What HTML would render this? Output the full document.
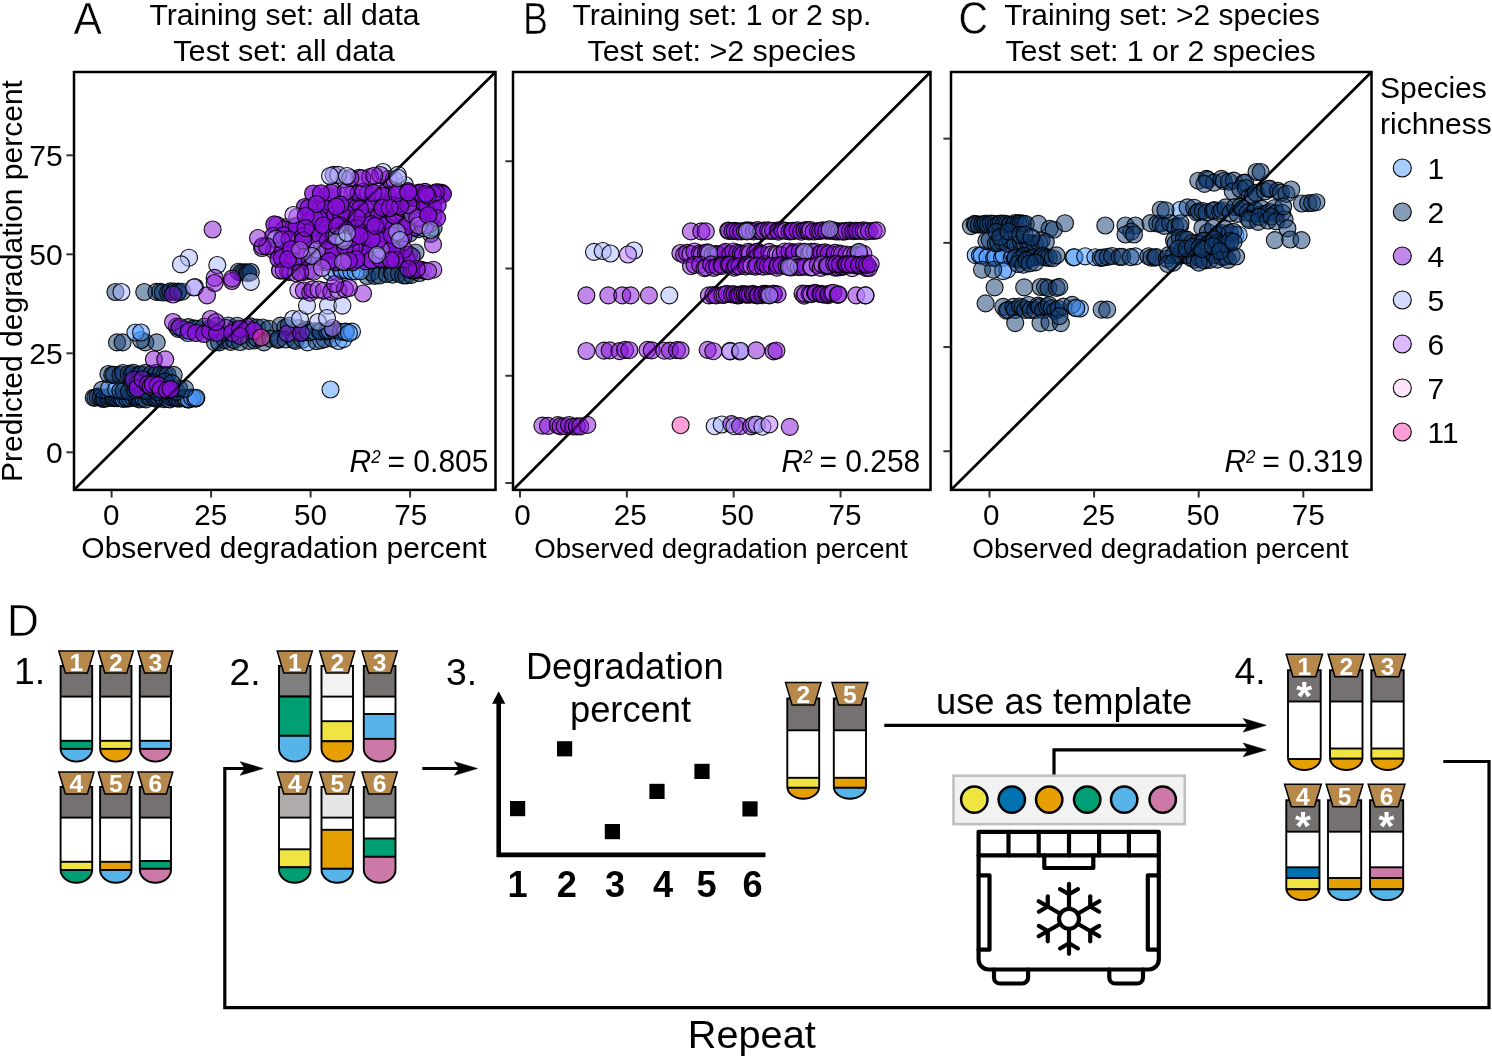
<!DOCTYPE html>
<html lang="en"><head><meta charset="utf-8"><title>Figure</title>
<style>html,body{margin:0;padding:0;background:#fff}svg{display:block}</style></head>
<body>
<svg width="1492" height="1057" viewBox="0 0 1492 1057" font-family="'Liberation Sans', Arial, Helvetica, sans-serif" fill="#000">
<rect width="1492" height="1057" fill="#fff"/>
<g id="panelA">
<line x1="74.0" y1="489.9" x2="495.5" y2="72.0" stroke="#000" stroke-width="2.6"/>
<g stroke="#000" stroke-width="1.15" stroke-opacity="0.9" fill-opacity="0.5">
<circle cx="93.7" cy="397.7" r="8.5" fill="#103a70"/>
<circle cx="95.4" cy="397.6" r="8.5" fill="#103a70"/>
<circle cx="97.7" cy="396.6" r="8.5" fill="#103a70"/>
<circle cx="100.8" cy="397.2" r="8.5" fill="#103a70"/>
<circle cx="103.3" cy="399.0" r="8.5" fill="#103a70"/>
<circle cx="104.6" cy="398.4" r="8.5" fill="#103a70"/>
<circle cx="107.9" cy="398.2" r="8.5" fill="#103a70"/>
<circle cx="109.7" cy="396.6" r="8.5" fill="#103a70"/>
<circle cx="113.0" cy="397.8" r="8.5" fill="#103a70"/>
<circle cx="114.6" cy="398.2" r="8.5" fill="#103a70"/>
<circle cx="117.2" cy="398.2" r="8.5" fill="#103a70"/>
<circle cx="119.3" cy="396.8" r="8.5" fill="#103a70"/>
<circle cx="121.7" cy="398.4" r="8.5" fill="#103a70"/>
<circle cx="123.5" cy="398.8" r="8.5" fill="#4f9bff"/>
<circle cx="125.7" cy="397.6" r="8.5" fill="#4f9bff"/>
<circle cx="127.5" cy="398.6" r="8.5" fill="#103a70"/>
<circle cx="129.7" cy="398.1" r="8.5" fill="#103a70"/>
<circle cx="133.4" cy="397.4" r="8.5" fill="#4f9bff"/>
<circle cx="135.9" cy="398.0" r="8.5" fill="#103a70"/>
<circle cx="136.3" cy="397.0" r="8.5" fill="#103a70"/>
<circle cx="139.3" cy="399.4" r="8.5" fill="#103a70"/>
<circle cx="140.7" cy="397.5" r="8.5" fill="#103a70"/>
<circle cx="143.5" cy="398.2" r="8.5" fill="#4f9bff"/>
<circle cx="146.0" cy="399.3" r="8.5" fill="#103a70"/>
<circle cx="148.3" cy="396.7" r="8.5" fill="#103a70"/>
<circle cx="151.1" cy="397.4" r="8.5" fill="#4f9bff"/>
<circle cx="152.7" cy="396.6" r="8.5" fill="#103a70"/>
<circle cx="155.1" cy="398.3" r="8.5" fill="#103a70"/>
<circle cx="157.4" cy="398.8" r="8.5" fill="#103a70"/>
<circle cx="158.9" cy="397.7" r="8.5" fill="#103a70"/>
<circle cx="162.9" cy="396.7" r="8.5" fill="#4f9bff"/>
<circle cx="164.1" cy="399.2" r="8.5" fill="#103a70"/>
<circle cx="167.2" cy="398.6" r="8.5" fill="#103a70"/>
<circle cx="169.8" cy="399.4" r="8.5" fill="#4f9bff"/>
<circle cx="170.2" cy="397.0" r="8.5" fill="#103a70"/>
<circle cx="173.6" cy="398.0" r="8.5" fill="#103a70"/>
<circle cx="175.7" cy="397.3" r="8.5" fill="#103a70"/>
<circle cx="177.0" cy="398.3" r="8.5" fill="#103a70"/>
<circle cx="179.6" cy="398.6" r="8.5" fill="#103a70"/>
<circle cx="182.3" cy="397.9" r="8.5" fill="#103a70"/>
<circle cx="185.4" cy="397.7" r="8.5" fill="#4f9bff"/>
<circle cx="186.6" cy="398.4" r="8.5" fill="#4f9bff"/>
<circle cx="188.1" cy="399.5" r="8.5" fill="#103a70"/>
<circle cx="191.2" cy="397.5" r="8.5" fill="#103a70"/>
<circle cx="192.6" cy="398.2" r="8.5" fill="#103a70"/>
<circle cx="196.0" cy="398.3" r="8.5" fill="#103a70"/>
<circle cx="186.2" cy="398.7" r="8.5" fill="#4f9bff"/>
<circle cx="188.8" cy="399.4" r="8.5" fill="#4f9bff"/>
<circle cx="192.2" cy="397.7" r="8.5" fill="#4f9bff"/>
<circle cx="195.2" cy="398.5" r="8.5" fill="#4f9bff"/>
<circle cx="196.3" cy="397.7" r="8.5" fill="#4f9bff"/>
<circle cx="101.9" cy="389.9" r="8.5" fill="#103a70"/>
<circle cx="109.3" cy="388.1" r="8.5" fill="#4f9bff"/>
<circle cx="116.2" cy="389.4" r="8.5" fill="#4f9bff"/>
<circle cx="120.3" cy="391.0" r="8.5" fill="#103a70"/>
<circle cx="123.6" cy="390.8" r="8.5" fill="#103a70"/>
<circle cx="128.9" cy="391.6" r="8.5" fill="#103a70"/>
<circle cx="135.0" cy="390.1" r="8.5" fill="#103a70"/>
<circle cx="142.8" cy="390.5" r="8.5" fill="#103a70"/>
<circle cx="147.4" cy="391.2" r="8.5" fill="#103a70"/>
<circle cx="154.0" cy="388.8" r="8.5" fill="#103a70"/>
<circle cx="157.7" cy="392.0" r="8.5" fill="#103a70"/>
<circle cx="164.8" cy="389.0" r="8.5" fill="#103a70"/>
<circle cx="169.8" cy="389.8" r="8.5" fill="#103a70"/>
<circle cx="176.7" cy="391.8" r="8.5" fill="#103a70"/>
<circle cx="179.0" cy="388.4" r="8.5" fill="#103a70"/>
<circle cx="185.1" cy="388.8" r="8.5" fill="#103a70"/>
<circle cx="108.4" cy="374.0" r="8.5" fill="#103a70"/>
<circle cx="112.3" cy="374.8" r="8.5" fill="#103a70"/>
<circle cx="114.1" cy="374.7" r="8.5" fill="#103a70"/>
<circle cx="120.4" cy="374.9" r="8.5" fill="#103a70"/>
<circle cx="123.0" cy="373.0" r="8.5" fill="#103a70"/>
<circle cx="128.8" cy="373.9" r="8.5" fill="#103a70"/>
<circle cx="131.8" cy="374.5" r="8.5" fill="#103a70"/>
<circle cx="133.5" cy="372.9" r="8.5" fill="#103a70"/>
<circle cx="138.9" cy="374.7" r="8.5" fill="#103a70"/>
<circle cx="141.1" cy="374.4" r="8.5" fill="#103a70"/>
<circle cx="145.7" cy="372.9" r="8.5" fill="#103a70"/>
<circle cx="151.2" cy="374.1" r="8.5" fill="#103a70"/>
<circle cx="155.6" cy="375.2" r="8.5" fill="#103a70"/>
<circle cx="156.6" cy="372.9" r="8.5" fill="#103a70"/>
<circle cx="160.5" cy="374.6" r="8.5" fill="#103a70"/>
<circle cx="164.7" cy="374.8" r="8.5" fill="#103a70"/>
<circle cx="167.6" cy="375.0" r="8.5" fill="#103a70"/>
<circle cx="173.7" cy="374.8" r="8.5" fill="#103a70"/>
<circle cx="132.5" cy="382.1" r="8.5" fill="#103a70"/>
<circle cx="137.9" cy="383.5" r="8.5" fill="#103a70"/>
<circle cx="148.6" cy="383.1" r="8.5" fill="#103a70"/>
<circle cx="151.8" cy="381.9" r="8.5" fill="#103a70"/>
<circle cx="165.2" cy="381.3" r="8.5" fill="#103a70"/>
<circle cx="171.9" cy="383.1" r="8.5" fill="#103a70"/>
<circle cx="117.0" cy="342.4" r="8.5" fill="#103a70"/>
<circle cx="122.6" cy="342.4" r="8.5" fill="#103a70"/>
<circle cx="145.3" cy="342.4" r="8.5" fill="#103a70"/>
<circle cx="156.7" cy="342.4" r="8.5" fill="#103a70"/>
<circle cx="141.0" cy="340.0" r="8.5" fill="#103a70"/>
<circle cx="135.4" cy="332.5" r="8.5" fill="#4f9bff"/>
<circle cx="141.0" cy="332.5" r="8.5" fill="#4f9bff"/>
<circle cx="115.4" cy="292.0" r="8.5" fill="#103a70"/>
<circle cx="144.2" cy="292.0" r="8.5" fill="#103a70"/>
<circle cx="156.4" cy="291.8" r="8.5" fill="#103a70"/>
<circle cx="160.1" cy="291.9" r="8.5" fill="#103a70"/>
<circle cx="162.9" cy="292.5" r="8.5" fill="#103a70"/>
<circle cx="168.1" cy="292.7" r="8.5" fill="#103a70"/>
<circle cx="170.4" cy="291.4" r="8.5" fill="#103a70"/>
<circle cx="174.3" cy="291.6" r="8.5" fill="#103a70"/>
<circle cx="177.6" cy="292.6" r="8.5" fill="#103a70"/>
<circle cx="178.3" cy="291.5" r="8.5" fill="#103a70"/>
<circle cx="182.2" cy="291.7" r="8.5" fill="#103a70"/>
<circle cx="238.5" cy="271.7" r="8.5" fill="#103a70"/>
<circle cx="241.4" cy="272.5" r="8.5" fill="#103a70"/>
<circle cx="244.1" cy="272.2" r="8.5" fill="#103a70"/>
<circle cx="246.8" cy="272.4" r="8.5" fill="#103a70"/>
<circle cx="248.2" cy="273.2" r="8.5" fill="#103a70"/>
<circle cx="250.8" cy="272.0" r="8.5" fill="#103a70"/>
<circle cx="176.8" cy="326.6" r="8.5" fill="#103a70"/>
<circle cx="178.3" cy="328.9" r="8.5" fill="#103a70"/>
<circle cx="188.3" cy="327.1" r="8.5" fill="#103a70"/>
<circle cx="193.8" cy="328.3" r="8.5" fill="#103a70"/>
<circle cx="197.4" cy="328.7" r="8.5" fill="#103a70"/>
<circle cx="204.4" cy="326.6" r="8.5" fill="#103a70"/>
<circle cx="209.8" cy="328.7" r="8.5" fill="#103a70"/>
<circle cx="216.7" cy="325.8" r="8.5" fill="#103a70"/>
<circle cx="228.2" cy="325.5" r="8.5" fill="#103a70"/>
<circle cx="235.5" cy="329.2" r="8.5" fill="#103a70"/>
<circle cx="237.2" cy="325.7" r="8.5" fill="#103a70"/>
<circle cx="246.5" cy="329.4" r="8.5" fill="#103a70"/>
<circle cx="250.1" cy="326.3" r="8.5" fill="#103a70"/>
<circle cx="256.9" cy="327.6" r="8.5" fill="#103a70"/>
<circle cx="262.6" cy="327.5" r="8.5" fill="#103a70"/>
<circle cx="268.9" cy="328.7" r="8.5" fill="#103a70"/>
<circle cx="280.6" cy="325.6" r="8.5" fill="#103a70"/>
<circle cx="285.4" cy="327.6" r="8.5" fill="#103a70"/>
<circle cx="288.7" cy="325.9" r="8.5" fill="#103a70"/>
<circle cx="298.8" cy="328.1" r="8.5" fill="#103a70"/>
<circle cx="215.0" cy="342.4" r="8.5" fill="#103a70"/>
<circle cx="219.2" cy="342.4" r="8.5" fill="#103a70"/>
<circle cx="225.0" cy="340.1" r="8.5" fill="#103a70"/>
<circle cx="230.6" cy="341.8" r="8.5" fill="#103a70"/>
<circle cx="234.2" cy="340.2" r="8.5" fill="#103a70"/>
<circle cx="240.0" cy="342.0" r="8.5" fill="#103a70"/>
<circle cx="249.0" cy="340.9" r="8.5" fill="#103a70"/>
<circle cx="254.6" cy="340.3" r="8.5" fill="#103a70"/>
<circle cx="257.2" cy="338.5" r="8.5" fill="#103a70"/>
<circle cx="263.9" cy="342.4" r="8.5" fill="#103a70"/>
<circle cx="270.4" cy="338.6" r="8.5" fill="#103a70"/>
<circle cx="277.8" cy="339.9" r="8.5" fill="#103a70"/>
<circle cx="278.5" cy="338.8" r="8.5" fill="#103a70"/>
<circle cx="285.6" cy="339.5" r="8.5" fill="#103a70"/>
<circle cx="293.9" cy="339.6" r="8.5" fill="#103a70"/>
<circle cx="295.6" cy="340.8" r="8.5" fill="#103a70"/>
<circle cx="302.8" cy="339.7" r="8.5" fill="#103a70"/>
<circle cx="307.5" cy="342.3" r="8.5" fill="#4f9bff"/>
<circle cx="316.5" cy="341.1" r="8.5" fill="#103a70"/>
<circle cx="321.3" cy="340.1" r="8.5" fill="#4f9bff"/>
<circle cx="324.6" cy="339.1" r="8.5" fill="#103a70"/>
<circle cx="332.4" cy="338.7" r="8.5" fill="#103a70"/>
<circle cx="338.5" cy="341.0" r="8.5" fill="#4f9bff"/>
<circle cx="343.5" cy="339.1" r="8.5" fill="#4f9bff"/>
<circle cx="302.2" cy="332.0" r="8.5" fill="#103a70"/>
<circle cx="306.6" cy="329.8" r="8.5" fill="#103a70"/>
<circle cx="308.5" cy="332.4" r="8.5" fill="#103a70"/>
<circle cx="314.1" cy="331.2" r="8.5" fill="#4f9bff"/>
<circle cx="319.3" cy="331.0" r="8.5" fill="#103a70"/>
<circle cx="320.8" cy="331.7" r="8.5" fill="#103a70"/>
<circle cx="327.1" cy="331.5" r="8.5" fill="#103a70"/>
<circle cx="329.4" cy="330.3" r="8.5" fill="#4f9bff"/>
<circle cx="333.6" cy="330.2" r="8.5" fill="#103a70"/>
<circle cx="340.7" cy="331.7" r="8.5" fill="#103a70"/>
<circle cx="345.7" cy="332.0" r="8.5" fill="#4f9bff"/>
<circle cx="346.2" cy="331.8" r="8.5" fill="#103a70"/>
<circle cx="184.0" cy="330.0" r="8.5" fill="#4f9bff"/>
<circle cx="188.0" cy="333.0" r="8.5" fill="#4f9bff"/>
<circle cx="345.0" cy="331.6" r="8.5" fill="#4f9bff"/>
<circle cx="352.0" cy="331.6" r="8.5" fill="#4f9bff"/>
<circle cx="349.0" cy="333.0" r="8.5" fill="#4f9bff"/>
<circle cx="330.5" cy="389.5" r="8.5" fill="#4f9bff"/>
<circle cx="367.1" cy="276.0" r="8.5" fill="#103a70"/>
<circle cx="371.4" cy="272.3" r="8.5" fill="#103a70"/>
<circle cx="374.6" cy="275.8" r="8.5" fill="#103a70"/>
<circle cx="379.4" cy="275.5" r="8.5" fill="#103a70"/>
<circle cx="386.6" cy="274.0" r="8.5" fill="#103a70"/>
<circle cx="391.9" cy="272.1" r="8.5" fill="#103a70"/>
<circle cx="392.5" cy="274.7" r="8.5" fill="#103a70"/>
<circle cx="398.9" cy="273.7" r="8.5" fill="#103a70"/>
<circle cx="403.4" cy="275.4" r="8.5" fill="#103a70"/>
<circle cx="406.3" cy="275.4" r="8.5" fill="#103a70"/>
<circle cx="411.4" cy="274.9" r="8.5" fill="#103a70"/>
<circle cx="419.5" cy="273.0" r="8.5" fill="#103a70"/>
<circle cx="330.3" cy="272.0" r="8.5" fill="#4f9bff"/>
<circle cx="336.4" cy="271.8" r="8.5" fill="#4f9bff"/>
<circle cx="341.0" cy="269.8" r="8.5" fill="#4f9bff"/>
<circle cx="342.2" cy="270.9" r="8.5" fill="#4f9bff"/>
<circle cx="346.6" cy="270.3" r="8.5" fill="#4f9bff"/>
<circle cx="351.3" cy="271.4" r="8.5" fill="#4f9bff"/>
<circle cx="355.7" cy="271.4" r="8.5" fill="#4f9bff"/>
<circle cx="360.5" cy="271.2" r="8.5" fill="#4f9bff"/>
<circle cx="300.5" cy="254.5" r="8.5" fill="#4f9bff"/>
<circle cx="316.1" cy="255.9" r="8.5" fill="#103a70"/>
<circle cx="322.9" cy="257.5" r="8.5" fill="#103a70"/>
<circle cx="335.5" cy="254.8" r="8.5" fill="#103a70"/>
<circle cx="343.4" cy="253.5" r="8.5" fill="#103a70"/>
<circle cx="357.4" cy="253.6" r="8.5" fill="#4f9bff"/>
<circle cx="366.6" cy="254.9" r="8.5" fill="#103a70"/>
<circle cx="376.7" cy="253.0" r="8.5" fill="#103a70"/>
<circle cx="381.6" cy="255.0" r="8.5" fill="#103a70"/>
<circle cx="398.1" cy="253.3" r="8.5" fill="#4f9bff"/>
<circle cx="409.1" cy="254.6" r="8.5" fill="#103a70"/>
<circle cx="415.5" cy="252.5" r="8.5" fill="#103a70"/>
<circle cx="322.9" cy="228.6" r="8.5" fill="#103a70"/>
<circle cx="331.7" cy="233.1" r="8.5" fill="#103a70"/>
<circle cx="343.6" cy="229.1" r="8.5" fill="#103a70"/>
<circle cx="352.1" cy="229.0" r="8.5" fill="#103a70"/>
<circle cx="357.2" cy="230.0" r="8.5" fill="#103a70"/>
<circle cx="367.8" cy="227.0" r="8.5" fill="#103a70"/>
<circle cx="375.7" cy="226.7" r="8.5" fill="#103a70"/>
<circle cx="387.7" cy="229.2" r="8.5" fill="#103a70"/>
<circle cx="392.4" cy="232.8" r="8.5" fill="#103a70"/>
<circle cx="404.6" cy="227.0" r="8.5" fill="#103a70"/>
<circle cx="409.4" cy="233.7" r="8.5" fill="#103a70"/>
<circle cx="418.5" cy="229.1" r="8.5" fill="#103a70"/>
<circle cx="430.8" cy="233.8" r="8.5" fill="#103a70"/>
<circle cx="433.6" cy="227.8" r="8.5" fill="#103a70"/>
<circle cx="341.3" cy="208.5" r="8.5" fill="#103a70"/>
<circle cx="354.3" cy="201.7" r="8.5" fill="#103a70"/>
<circle cx="363.1" cy="207.3" r="8.5" fill="#103a70"/>
<circle cx="366.9" cy="206.2" r="8.5" fill="#103a70"/>
<circle cx="375.9" cy="206.0" r="8.5" fill="#103a70"/>
<circle cx="386.1" cy="206.6" r="8.5" fill="#103a70"/>
<circle cx="390.9" cy="203.4" r="8.5" fill="#103a70"/>
<circle cx="406.2" cy="204.1" r="8.5" fill="#103a70"/>
<circle cx="408.5" cy="201.1" r="8.5" fill="#103a70"/>
<circle cx="417.5" cy="203.2" r="8.5" fill="#103a70"/>
<circle cx="426.0" cy="204.8" r="8.5" fill="#103a70"/>
<circle cx="433.6" cy="201.2" r="8.5" fill="#103a70"/>
<circle cx="133.4" cy="379.7" r="8.5" fill="#8510d8"/>
<circle cx="137.5" cy="388.3" r="8.5" fill="#8510d8" fill-opacity="0.78"/>
<circle cx="142.5" cy="379.3" r="8.5" fill="#8510d8"/>
<circle cx="147.8" cy="384.3" r="8.5" fill="#8510d8" fill-opacity="0.78"/>
<circle cx="150.5" cy="386.3" r="8.5" fill="#8510d8"/>
<circle cx="152.8" cy="384.4" r="8.5" fill="#8510d8" fill-opacity="0.78"/>
<circle cx="157.8" cy="385.1" r="8.5" fill="#8510d8" fill-opacity="0.78"/>
<circle cx="160.5" cy="389.5" r="8.5" fill="#8510d8"/>
<circle cx="167.0" cy="390.1" r="8.5" fill="#8510d8" fill-opacity="0.78"/>
<circle cx="170.6" cy="389.1" r="8.5" fill="#8510d8" fill-opacity="0.78"/>
<circle cx="153.9" cy="359.4" r="8.5" fill="#8510d8"/>
<circle cx="165.2" cy="359.4" r="8.5" fill="#8510d8"/>
<circle cx="121.4" cy="292.0" r="8.5" fill="#a9b8ff"/>
<circle cx="173.0" cy="294.5" r="8.5" fill="#8510d8"/>
<circle cx="195.0" cy="287.0" r="8.5" fill="#b972ff"/>
<circle cx="194.0" cy="287.5" r="8.5" fill="#a9b8ff"/>
<circle cx="207.0" cy="295.3" r="8.5" fill="#8510d8"/>
<circle cx="189.0" cy="257.7" r="8.5" fill="#a9b8ff"/>
<circle cx="181.0" cy="264.4" r="8.5" fill="#a9b8ff"/>
<circle cx="217.3" cy="265.0" r="8.5" fill="#a9b8ff"/>
<circle cx="212.6" cy="229.5" r="8.5" fill="#8510d8"/>
<circle cx="214.6" cy="277.8" r="8.5" fill="#8510d8"/>
<circle cx="232.0" cy="281.0" r="8.5" fill="#8510d8"/>
<circle cx="214.6" cy="283.0" r="8.5" fill="#8510d8"/>
<circle cx="250.8" cy="281.8" r="8.5" fill="#a9b8ff"/>
<circle cx="232.0" cy="278.6" r="8.5" fill="#8510d8"/>
<circle cx="173.0" cy="322.0" r="8.5" fill="#8510d8"/>
<circle cx="180.0" cy="327.0" r="8.5" fill="#8510d8"/>
<circle cx="226.0" cy="328.0" r="8.5" fill="#8510d8"/>
<circle cx="247.0" cy="327.0" r="8.5" fill="#8510d8"/>
<circle cx="189.0" cy="331.0" r="8.5" fill="#8510d8" fill-opacity="0.78"/>
<circle cx="196.0" cy="333.0" r="8.5" fill="#8510d8" fill-opacity="0.78"/>
<circle cx="204.0" cy="334.0" r="8.5" fill="#8510d8" fill-opacity="0.78"/>
<circle cx="210.0" cy="331.0" r="8.5" fill="#8510d8" fill-opacity="0.78"/>
<circle cx="217.0" cy="333.0" r="8.5" fill="#8510d8" fill-opacity="0.78"/>
<circle cx="232.0" cy="333.0" r="8.5" fill="#8510d8" fill-opacity="0.78"/>
<circle cx="240.0" cy="329.0" r="8.5" fill="#8510d8" fill-opacity="0.78"/>
<circle cx="254.0" cy="331.0" r="8.5" fill="#8510d8" fill-opacity="0.78"/>
<circle cx="210.6" cy="319.0" r="8.5" fill="#8510d8"/>
<circle cx="216.0" cy="322.0" r="8.5" fill="#8510d8"/>
<circle cx="287.5" cy="333.5" r="8.5" fill="#8510d8"/>
<circle cx="301.0" cy="333.0" r="8.5" fill="#8510d8"/>
<circle cx="240.0" cy="336.0" r="8.5" fill="#8510d8"/>
<circle cx="261.3" cy="337.5" r="8.5" fill="#ff3cae"/>
<circle cx="332.5" cy="328.0" r="8.5" fill="#b972ff"/>
<circle cx="293.0" cy="319.0" r="8.5" fill="#a9b8ff"/>
<circle cx="300.0" cy="319.0" r="8.5" fill="#a9b8ff"/>
<circle cx="307.0" cy="305.6" r="8.5" fill="#a9b8ff"/>
<circle cx="328.0" cy="305.6" r="8.5" fill="#a9b8ff"/>
<circle cx="342.4" cy="305.6" r="8.5" fill="#a9b8ff"/>
<circle cx="318.0" cy="322.0" r="8.5" fill="#a9b8ff"/>
<circle cx="327.0" cy="318.0" r="8.5" fill="#a9b8ff"/>
<circle cx="298.4" cy="290.2" r="8.5" fill="#b972ff"/>
<circle cx="303.9" cy="290.5" r="8.5" fill="#8510d8"/>
<circle cx="310.2" cy="292.7" r="8.5" fill="#8510d8"/>
<circle cx="312.4" cy="289.4" r="8.5" fill="#8510d8"/>
<circle cx="318.7" cy="289.6" r="8.5" fill="#b972ff"/>
<circle cx="324.0" cy="290.7" r="8.5" fill="#8510d8"/>
<circle cx="331.2" cy="291.8" r="8.5" fill="#8510d8"/>
<circle cx="338.2" cy="290.2" r="8.5" fill="#b972ff"/>
<circle cx="344.9" cy="289.1" r="8.5" fill="#8510d8"/>
<circle cx="363.0" cy="293.5" r="8.5" fill="#8510d8"/>
<circle cx="349.0" cy="288.0" r="8.5" fill="#8510d8"/>
<circle cx="335.0" cy="284.0" r="8.5" fill="#8510d8"/>
<circle cx="317.7" cy="240.8" r="8.5" fill="#b972ff"/>
<circle cx="310.7" cy="239.3" r="8.5" fill="#8510d8" fill-opacity="0.78"/>
<circle cx="412.3" cy="195.3" r="8.5" fill="#b972ff"/>
<circle cx="414.8" cy="195.4" r="8.5" fill="#8510d8" fill-opacity="0.78"/>
<circle cx="438.6" cy="192.4" r="8.5" fill="#8510d8" fill-opacity="0.78"/>
<circle cx="375.6" cy="217.7" r="8.5" fill="#8510d8" fill-opacity="0.78"/>
<circle cx="352.4" cy="194.4" r="8.5" fill="#8510d8" fill-opacity="0.78"/>
<circle cx="286.6" cy="227.0" r="8.5" fill="#8510d8"/>
<circle cx="398.8" cy="240.0" r="8.5" fill="#8510d8" fill-opacity="0.78"/>
<circle cx="418.1" cy="195.7" r="8.5" fill="#8510d8"/>
<circle cx="401.3" cy="258.7" r="8.5" fill="#8510d8" fill-opacity="0.78"/>
<circle cx="372.2" cy="251.2" r="8.5" fill="#8510d8" fill-opacity="0.78"/>
<circle cx="415.1" cy="227.6" r="8.5" fill="#8510d8"/>
<circle cx="346.2" cy="205.3" r="8.5" fill="#8510d8"/>
<circle cx="280.4" cy="270.4" r="8.5" fill="#8510d8"/>
<circle cx="388.3" cy="258.5" r="8.5" fill="#8510d8" fill-opacity="0.78"/>
<circle cx="395.7" cy="250.3" r="8.5" fill="#8510d8" fill-opacity="0.78"/>
<circle cx="277.1" cy="225.0" r="8.5" fill="#8510d8"/>
<circle cx="420.5" cy="269.5" r="8.5" fill="#8510d8"/>
<circle cx="331.5" cy="229.9" r="8.5" fill="#8510d8"/>
<circle cx="404.1" cy="214.5" r="8.5" fill="#8510d8" fill-opacity="0.78"/>
<circle cx="297.2" cy="216.9" r="8.5" fill="#8510d8"/>
<circle cx="390.0" cy="235.6" r="8.5" fill="#8510d8"/>
<circle cx="301.3" cy="258.2" r="8.5" fill="#8510d8"/>
<circle cx="326.6" cy="195.4" r="8.5" fill="#8510d8"/>
<circle cx="424.5" cy="224.4" r="8.5" fill="#8510d8" fill-opacity="0.78"/>
<circle cx="330.2" cy="216.4" r="8.5" fill="#a9b8ff"/>
<circle cx="386.2" cy="246.8" r="8.5" fill="#8510d8" fill-opacity="0.78"/>
<circle cx="262.0" cy="248.0" r="8.5" fill="#8510d8"/>
<circle cx="384.0" cy="258.9" r="8.5" fill="#8510d8" fill-opacity="0.78"/>
<circle cx="320.5" cy="209.0" r="8.5" fill="#8510d8" fill-opacity="0.78"/>
<circle cx="421.6" cy="204.8" r="8.5" fill="#8510d8" fill-opacity="0.78"/>
<circle cx="372.0" cy="259.0" r="8.5" fill="#a9b8ff"/>
<circle cx="366.5" cy="216.6" r="8.5" fill="#8510d8" fill-opacity="0.78"/>
<circle cx="293.3" cy="227.6" r="8.5" fill="#8510d8" fill-opacity="0.78"/>
<circle cx="362.9" cy="251.7" r="8.5" fill="#8510d8" fill-opacity="0.78"/>
<circle cx="383.0" cy="172.0" r="8.5" fill="#a9b8ff"/>
<circle cx="403.0" cy="217.1" r="8.5" fill="#b972ff"/>
<circle cx="352.6" cy="262.4" r="8.5" fill="#8510d8" fill-opacity="0.78"/>
<circle cx="425.5" cy="192.2" r="8.5" fill="#8510d8"/>
<circle cx="436.2" cy="193.8" r="8.5" fill="#8510d8"/>
<circle cx="311.0" cy="250.2" r="8.5" fill="#b972ff"/>
<circle cx="411.8" cy="270.4" r="8.5" fill="#8510d8"/>
<circle cx="357.6" cy="249.0" r="8.5" fill="#a9b8ff"/>
<circle cx="387.5" cy="219.0" r="8.5" fill="#8510d8"/>
<circle cx="375.3" cy="208.8" r="8.5" fill="#8510d8" fill-opacity="0.78"/>
<circle cx="405.0" cy="185.0" r="8.5" fill="#a9b8ff"/>
<circle cx="339.5" cy="196.0" r="8.5" fill="#8510d8"/>
<circle cx="388.1" cy="195.5" r="8.5" fill="#8510d8" fill-opacity="0.78"/>
<circle cx="295.2" cy="257.7" r="8.5" fill="#8510d8" fill-opacity="0.78"/>
<circle cx="370.6" cy="207.3" r="8.5" fill="#b972ff"/>
<circle cx="380.4" cy="191.2" r="8.5" fill="#8510d8"/>
<circle cx="365.5" cy="261.3" r="8.5" fill="#8510d8" fill-opacity="0.78"/>
<circle cx="365.2" cy="208.1" r="8.5" fill="#8510d8"/>
<circle cx="396.9" cy="256.3" r="8.5" fill="#8510d8" fill-opacity="0.78"/>
<circle cx="410.3" cy="193.4" r="8.5" fill="#8510d8" fill-opacity="0.78"/>
<circle cx="300.5" cy="246.0" r="8.5" fill="#8510d8"/>
<circle cx="399.8" cy="227.8" r="8.5" fill="#8510d8" fill-opacity="0.78"/>
<circle cx="441.8" cy="192.8" r="8.5" fill="#8510d8" fill-opacity="0.78"/>
<circle cx="429.7" cy="224.1" r="8.5" fill="#8510d8" fill-opacity="0.78"/>
<circle cx="336.9" cy="219.6" r="8.5" fill="#8510d8"/>
<circle cx="419.0" cy="192.6" r="8.5" fill="#8510d8" fill-opacity="0.78"/>
<circle cx="304.9" cy="246.0" r="8.5" fill="#8510d8" fill-opacity="0.78"/>
<circle cx="325.1" cy="209.3" r="8.5" fill="#8510d8" fill-opacity="0.78"/>
<circle cx="391.5" cy="225.0" r="8.5" fill="#b972ff"/>
<circle cx="433.0" cy="244.4" r="8.5" fill="#8510d8"/>
<circle cx="342.0" cy="250.7" r="8.5" fill="#a9b8ff"/>
<circle cx="349.7" cy="204.3" r="8.5" fill="#8510d8" fill-opacity="0.78"/>
<circle cx="296.9" cy="236.1" r="8.5" fill="#8510d8"/>
<circle cx="284.1" cy="229.4" r="8.5" fill="#8510d8"/>
<circle cx="443.0" cy="194.1" r="8.5" fill="#8510d8" fill-opacity="0.78"/>
<circle cx="317.9" cy="227.3" r="8.5" fill="#b972ff"/>
<circle cx="305.1" cy="271.7" r="8.5" fill="#8510d8"/>
<circle cx="311.3" cy="228.8" r="8.5" fill="#8510d8" fill-opacity="0.78"/>
<circle cx="382.9" cy="260.1" r="8.5" fill="#8510d8"/>
<circle cx="360.4" cy="224.9" r="8.5" fill="#8510d8" fill-opacity="0.78"/>
<circle cx="359.3" cy="177.9" r="8.5" fill="#8510d8"/>
<circle cx="357.3" cy="240.5" r="8.5" fill="#a9b8ff"/>
<circle cx="401.5" cy="237.9" r="8.5" fill="#8510d8" fill-opacity="0.78"/>
<circle cx="334.4" cy="209.6" r="8.5" fill="#8510d8" fill-opacity="0.78"/>
<circle cx="357.0" cy="207.6" r="8.5" fill="#8510d8" fill-opacity="0.78"/>
<circle cx="424.0" cy="228.0" r="8.5" fill="#a9b8ff"/>
<circle cx="309.3" cy="261.2" r="8.5" fill="#8510d8"/>
<circle cx="312.1" cy="239.1" r="8.5" fill="#b972ff"/>
<circle cx="274.3" cy="224.4" r="8.5" fill="#8510d8" fill-opacity="0.78"/>
<circle cx="345.7" cy="192.0" r="8.5" fill="#b972ff"/>
<circle cx="273.2" cy="235.9" r="8.5" fill="#8510d8" fill-opacity="0.78"/>
<circle cx="370.0" cy="177.0" r="8.5" fill="#8510d8"/>
<circle cx="367.8" cy="193.2" r="8.5" fill="#8510d8" fill-opacity="0.78"/>
<circle cx="285.0" cy="250.6" r="8.5" fill="#a9b8ff"/>
<circle cx="405.2" cy="196.5" r="8.5" fill="#8510d8"/>
<circle cx="377.5" cy="250.5" r="8.5" fill="#a9b8ff"/>
<circle cx="280.0" cy="270.3" r="8.5" fill="#b972ff"/>
<circle cx="408.0" cy="224.3" r="8.5" fill="#8510d8" fill-opacity="0.78"/>
<circle cx="344.4" cy="179.1" r="8.5" fill="#a9b8ff"/>
<circle cx="367.7" cy="224.8" r="8.5" fill="#8510d8" fill-opacity="0.78"/>
<circle cx="332.6" cy="191.2" r="8.5" fill="#b972ff"/>
<circle cx="382.0" cy="216.7" r="8.5" fill="#8510d8" fill-opacity="0.78"/>
<circle cx="299.7" cy="270.8" r="8.5" fill="#8510d8"/>
<circle cx="385.5" cy="258.3" r="8.5" fill="#b972ff"/>
<circle cx="325.0" cy="236.6" r="8.5" fill="#8510d8" fill-opacity="0.78"/>
<circle cx="322.8" cy="247.6" r="8.5" fill="#a9b8ff"/>
<circle cx="339.6" cy="261.3" r="8.5" fill="#8510d8"/>
<circle cx="311.9" cy="259.8" r="8.5" fill="#8510d8"/>
<circle cx="333.5" cy="174.8" r="8.5" fill="#8510d8"/>
<circle cx="291.0" cy="239.5" r="8.5" fill="#8510d8"/>
<circle cx="335.6" cy="262.4" r="8.5" fill="#8510d8" fill-opacity="0.78"/>
<circle cx="433.1" cy="207.4" r="8.5" fill="#8510d8" fill-opacity="0.78"/>
<circle cx="298.3" cy="226.4" r="8.5" fill="#8510d8" fill-opacity="0.78"/>
<circle cx="361.2" cy="257.2" r="8.5" fill="#8510d8" fill-opacity="0.78"/>
<circle cx="283.7" cy="235.4" r="8.5" fill="#8510d8" fill-opacity="0.78"/>
<circle cx="422.9" cy="270.2" r="8.5" fill="#8510d8"/>
<circle cx="345.3" cy="262.1" r="8.5" fill="#8510d8"/>
<circle cx="364.3" cy="226.5" r="8.5" fill="#8510d8"/>
<circle cx="384.4" cy="206.4" r="8.5" fill="#8510d8" fill-opacity="0.78"/>
<circle cx="295.4" cy="249.4" r="8.5" fill="#8510d8" fill-opacity="0.78"/>
<circle cx="373.1" cy="217.0" r="8.5" fill="#8510d8"/>
<circle cx="300.0" cy="262.0" r="8.5" fill="#a9b8ff"/>
<circle cx="288.1" cy="271.4" r="8.5" fill="#8510d8"/>
<circle cx="278.2" cy="251.1" r="8.5" fill="#b972ff"/>
<circle cx="311.6" cy="270.8" r="8.5" fill="#8510d8"/>
<circle cx="308.6" cy="270.3" r="8.5" fill="#8510d8"/>
<circle cx="274.2" cy="250.6" r="8.5" fill="#8510d8"/>
<circle cx="366.5" cy="248.1" r="8.5" fill="#8510d8" fill-opacity="0.78"/>
<circle cx="346.4" cy="240.1" r="8.5" fill="#8510d8" fill-opacity="0.78"/>
<circle cx="382.0" cy="226.5" r="8.5" fill="#8510d8" fill-opacity="0.78"/>
<circle cx="326.5" cy="205.1" r="8.5" fill="#8510d8" fill-opacity="0.78"/>
<circle cx="290.4" cy="272.2" r="8.5" fill="#8510d8"/>
<circle cx="385.6" cy="225.2" r="8.5" fill="#8510d8" fill-opacity="0.78"/>
<circle cx="283.0" cy="250.7" r="8.5" fill="#8510d8" fill-opacity="0.78"/>
<circle cx="414.4" cy="270.3" r="8.5" fill="#8510d8"/>
<circle cx="406.6" cy="259.0" r="8.5" fill="#8510d8" fill-opacity="0.78"/>
<circle cx="351.2" cy="248.5" r="8.5" fill="#8510d8" fill-opacity="0.78"/>
<circle cx="433.0" cy="215.7" r="8.5" fill="#8510d8"/>
<circle cx="378.5" cy="257.1" r="8.5" fill="#a9b8ff"/>
<circle cx="314.5" cy="257.0" r="8.5" fill="#8510d8"/>
<circle cx="324.6" cy="262.1" r="8.5" fill="#8510d8"/>
<circle cx="365.5" cy="237.1" r="8.5" fill="#8510d8" fill-opacity="0.78"/>
<circle cx="430.7" cy="194.6" r="8.5" fill="#8510d8" fill-opacity="0.78"/>
<circle cx="419.2" cy="207.5" r="8.5" fill="#8510d8"/>
<circle cx="366.8" cy="204.5" r="8.5" fill="#8510d8"/>
<circle cx="424.7" cy="207.8" r="8.5" fill="#8510d8" fill-opacity="0.78"/>
<circle cx="424.9" cy="191.8" r="8.5" fill="#b972ff"/>
<circle cx="353.1" cy="218.0" r="8.5" fill="#8510d8" fill-opacity="0.78"/>
<circle cx="425.8" cy="271.0" r="8.5" fill="#8510d8"/>
<circle cx="275.8" cy="238.9" r="8.5" fill="#a9b8ff"/>
<circle cx="296.3" cy="273.4" r="8.5" fill="#b972ff"/>
<circle cx="388.7" cy="179.0" r="8.5" fill="#8510d8"/>
<circle cx="411.6" cy="256.2" r="8.5" fill="#8510d8"/>
<circle cx="377.3" cy="191.2" r="8.5" fill="#b972ff"/>
<circle cx="419.6" cy="193.2" r="8.5" fill="#8510d8" fill-opacity="0.78"/>
<circle cx="296.4" cy="225.9" r="8.5" fill="#8510d8" fill-opacity="0.78"/>
<circle cx="386.3" cy="240.3" r="8.5" fill="#8510d8" fill-opacity="0.78"/>
<circle cx="319.1" cy="261.2" r="8.5" fill="#8510d8"/>
<circle cx="358.7" cy="193.1" r="8.5" fill="#8510d8"/>
<circle cx="289.5" cy="239.3" r="8.5" fill="#8510d8"/>
<circle cx="433.4" cy="194.6" r="8.5" fill="#8510d8" fill-opacity="0.78"/>
<circle cx="362.8" cy="217.9" r="8.5" fill="#8510d8" fill-opacity="0.78"/>
<circle cx="371.9" cy="260.2" r="8.5" fill="#b972ff"/>
<circle cx="367.6" cy="235.2" r="8.5" fill="#8510d8" fill-opacity="0.78"/>
<circle cx="333.0" cy="259.6" r="8.5" fill="#b972ff"/>
<circle cx="331.7" cy="193.0" r="8.5" fill="#8510d8" fill-opacity="0.78"/>
<circle cx="303.0" cy="236.4" r="8.5" fill="#8510d8" fill-opacity="0.78"/>
<circle cx="278.4" cy="259.0" r="8.5" fill="#8510d8" fill-opacity="0.78"/>
<circle cx="432.6" cy="193.8" r="8.5" fill="#8510d8"/>
<circle cx="371.3" cy="260.1" r="8.5" fill="#8510d8" fill-opacity="0.78"/>
<circle cx="338.2" cy="174.9" r="8.5" fill="#a9b8ff"/>
<circle cx="383.3" cy="195.8" r="8.5" fill="#8510d8" fill-opacity="0.78"/>
<circle cx="403.5" cy="236.8" r="8.5" fill="#8510d8" fill-opacity="0.78"/>
<circle cx="382.0" cy="239.9" r="8.5" fill="#8510d8" fill-opacity="0.78"/>
<circle cx="313.1" cy="193.5" r="8.5" fill="#8510d8" fill-opacity="0.78"/>
<circle cx="425.1" cy="225.4" r="8.5" fill="#8510d8" fill-opacity="0.78"/>
<circle cx="393.3" cy="228.2" r="8.5" fill="#8510d8" fill-opacity="0.78"/>
<circle cx="327.5" cy="250.9" r="8.5" fill="#8510d8"/>
<circle cx="354.6" cy="247.2" r="8.5" fill="#8510d8"/>
<circle cx="393.3" cy="214.6" r="8.5" fill="#8510d8"/>
<circle cx="393.9" cy="179.2" r="8.5" fill="#8510d8"/>
<circle cx="363.6" cy="191.5" r="8.5" fill="#8510d8"/>
<circle cx="433.3" cy="269.7" r="8.5" fill="#8510d8"/>
<circle cx="281.6" cy="239.9" r="8.5" fill="#8510d8"/>
<circle cx="303.2" cy="257.1" r="8.5" fill="#8510d8" fill-opacity="0.78"/>
<circle cx="411.0" cy="206.5" r="8.5" fill="#8510d8" fill-opacity="0.78"/>
<circle cx="262.6" cy="246.1" r="8.5" fill="#8510d8"/>
<circle cx="437.7" cy="204.9" r="8.5" fill="#8510d8" fill-opacity="0.78"/>
<circle cx="435.9" cy="192.3" r="8.5" fill="#8510d8"/>
<circle cx="356.4" cy="259.3" r="8.5" fill="#8510d8" fill-opacity="0.78"/>
<circle cx="398.8" cy="192.6" r="8.5" fill="#8510d8" fill-opacity="0.78"/>
<circle cx="332.2" cy="249.0" r="8.5" fill="#8510d8" fill-opacity="0.78"/>
<circle cx="348.7" cy="238.4" r="8.5" fill="#8510d8" fill-opacity="0.78"/>
<circle cx="304.8" cy="207.0" r="8.5" fill="#8510d8" fill-opacity="0.78"/>
<circle cx="324.2" cy="217.8" r="8.5" fill="#8510d8" fill-opacity="0.78"/>
<circle cx="350.3" cy="227.8" r="8.5" fill="#8510d8"/>
<circle cx="382.5" cy="207.8" r="8.5" fill="#8510d8" fill-opacity="0.78"/>
<circle cx="346.8" cy="225.8" r="8.5" fill="#8510d8" fill-opacity="0.78"/>
<circle cx="310.7" cy="219.9" r="8.5" fill="#8510d8" fill-opacity="0.78"/>
<circle cx="394.8" cy="216.2" r="8.5" fill="#8510d8"/>
<circle cx="380.4" cy="258.9" r="8.5" fill="#8510d8" fill-opacity="0.78"/>
<circle cx="335.1" cy="215.1" r="8.5" fill="#8510d8"/>
<circle cx="403.9" cy="249.6" r="8.5" fill="#8510d8"/>
<circle cx="402.1" cy="207.9" r="8.5" fill="#8510d8"/>
<circle cx="321.0" cy="193.4" r="8.5" fill="#8510d8" fill-opacity="0.78"/>
<circle cx="391.9" cy="249.0" r="8.5" fill="#8510d8" fill-opacity="0.78"/>
<circle cx="359.9" cy="208.9" r="8.5" fill="#8510d8" fill-opacity="0.78"/>
<circle cx="422.3" cy="219.1" r="8.5" fill="#8510d8" fill-opacity="0.78"/>
<circle cx="281.9" cy="258.0" r="8.5" fill="#8510d8" fill-opacity="0.78"/>
<circle cx="437.1" cy="218.1" r="8.5" fill="#8510d8" fill-opacity="0.78"/>
<circle cx="394.9" cy="205.9" r="8.5" fill="#8510d8" fill-opacity="0.78"/>
<circle cx="308.5" cy="207.9" r="8.5" fill="#8510d8" fill-opacity="0.78"/>
<circle cx="333.0" cy="248.9" r="8.5" fill="#8510d8" fill-opacity="0.78"/>
<circle cx="406.3" cy="226.4" r="8.5" fill="#8510d8"/>
<circle cx="371.6" cy="224.1" r="8.5" fill="#8510d8" fill-opacity="0.78"/>
<circle cx="345.0" cy="246.6" r="8.5" fill="#8510d8"/>
<circle cx="312.9" cy="227.8" r="8.5" fill="#8510d8" fill-opacity="0.78"/>
<circle cx="319.4" cy="219.4" r="8.5" fill="#8510d8" fill-opacity="0.78"/>
<circle cx="346.7" cy="214.2" r="8.5" fill="#8510d8" fill-opacity="0.78"/>
<circle cx="352.2" cy="237.3" r="8.5" fill="#8510d8" fill-opacity="0.78"/>
<circle cx="348.8" cy="260.7" r="8.5" fill="#8510d8" fill-opacity="0.78"/>
<circle cx="313.8" cy="217.6" r="8.5" fill="#8510d8" fill-opacity="0.78"/>
<circle cx="408.0" cy="191.1" r="8.5" fill="#8510d8" fill-opacity="0.78"/>
<circle cx="320.2" cy="235.5" r="8.5" fill="#8510d8" fill-opacity="0.78"/>
<circle cx="412.4" cy="214.5" r="8.5" fill="#b972ff"/>
<circle cx="267.0" cy="246.3" r="8.5" fill="#8510d8"/>
<circle cx="316.5" cy="204.0" r="8.5" fill="#8510d8" fill-opacity="0.78"/>
<circle cx="380.3" cy="175.0" r="8.5" fill="#8510d8"/>
<circle cx="427.6" cy="195.8" r="8.5" fill="#8510d8" fill-opacity="0.78"/>
<circle cx="317.4" cy="249.6" r="8.5" fill="#b972ff"/>
<circle cx="327.8" cy="228.4" r="8.5" fill="#8510d8"/>
<circle cx="323.4" cy="225.5" r="8.5" fill="#8510d8" fill-opacity="0.78"/>
<circle cx="357.0" cy="228.4" r="8.5" fill="#8510d8"/>
<circle cx="373.4" cy="192.9" r="8.5" fill="#8510d8" fill-opacity="0.78"/>
<circle cx="381.0" cy="250.1" r="8.5" fill="#b972ff"/>
<circle cx="428.0" cy="271.2" r="8.5" fill="#b972ff"/>
<circle cx="291.3" cy="249.2" r="8.5" fill="#8510d8" fill-opacity="0.78"/>
<circle cx="377.9" cy="240.1" r="8.5" fill="#8510d8" fill-opacity="0.78"/>
<circle cx="397.9" cy="174.8" r="8.5" fill="#a9b8ff"/>
<circle cx="303.2" cy="240.3" r="8.5" fill="#8510d8"/>
<circle cx="362.2" cy="178.2" r="8.5" fill="#8510d8"/>
<circle cx="374.2" cy="175.7" r="8.5" fill="#8510d8"/>
<circle cx="342.6" cy="237.8" r="8.5" fill="#b972ff"/>
<circle cx="327.9" cy="240.7" r="8.5" fill="#8510d8" fill-opacity="0.78"/>
<circle cx="341.4" cy="214.7" r="8.5" fill="#8510d8"/>
<circle cx="334.0" cy="236.2" r="8.5" fill="#8510d8"/>
<circle cx="425.9" cy="194.0" r="8.5" fill="#8510d8"/>
<circle cx="345.8" cy="191.5" r="8.5" fill="#8510d8"/>
<circle cx="371.6" cy="239.2" r="8.5" fill="#8510d8" fill-opacity="0.78"/>
<circle cx="417.3" cy="217.9" r="8.5" fill="#8510d8"/>
<circle cx="258.0" cy="238.0" r="8.5" fill="#8510d8"/>
<circle cx="356.8" cy="217.6" r="8.5" fill="#8510d8"/>
<circle cx="344.0" cy="241.0" r="8.5" fill="#a9b8ff"/>
<circle cx="293.4" cy="261.4" r="8.5" fill="#8510d8"/>
<circle cx="408.3" cy="205.2" r="8.5" fill="#8510d8"/>
<circle cx="359.6" cy="235.7" r="8.5" fill="#8510d8" fill-opacity="0.78"/>
<circle cx="339.3" cy="225.1" r="8.5" fill="#8510d8" fill-opacity="0.78"/>
<circle cx="418.5" cy="225.5" r="8.5" fill="#b972ff"/>
<circle cx="391.8" cy="235.2" r="8.5" fill="#8510d8" fill-opacity="0.78"/>
<circle cx="394.9" cy="259.7" r="8.5" fill="#8510d8" fill-opacity="0.78"/>
<circle cx="336.6" cy="236.4" r="8.5" fill="#a9b8ff"/>
<circle cx="293.4" cy="215.0" r="8.5" fill="#b972ff"/>
<circle cx="350.4" cy="178.0" r="8.5" fill="#8510d8"/>
<circle cx="305.7" cy="215.8" r="8.5" fill="#8510d8" fill-opacity="0.78"/>
<circle cx="416.8" cy="269.0" r="8.5" fill="#8510d8"/>
<circle cx="337.0" cy="226.0" r="8.5" fill="#8510d8"/>
<circle cx="313.7" cy="271.7" r="8.5" fill="#b972ff"/>
<circle cx="400.0" cy="206.5" r="8.5" fill="#8510d8"/>
<circle cx="390.7" cy="260.1" r="8.5" fill="#8510d8"/>
<circle cx="300.3" cy="272.5" r="8.5" fill="#8510d8"/>
<circle cx="396.7" cy="193.2" r="8.5" fill="#8510d8"/>
<circle cx="408.4" cy="269.0" r="8.5" fill="#8510d8"/>
<circle cx="283.7" cy="270.6" r="8.5" fill="#8510d8"/>
<circle cx="389.7" cy="208.0" r="8.5" fill="#8510d8"/>
<circle cx="305.6" cy="228.1" r="8.5" fill="#8510d8"/>
<circle cx="287.9" cy="259.3" r="8.5" fill="#8510d8" fill-opacity="0.78"/>
<circle cx="375.2" cy="225.8" r="8.5" fill="#8510d8"/>
<circle cx="340.2" cy="204.6" r="8.5" fill="#8510d8" fill-opacity="0.78"/>
<circle cx="336.2" cy="206.7" r="8.5" fill="#8510d8" fill-opacity="0.78"/>
<circle cx="329.0" cy="261.1" r="8.5" fill="#8510d8" fill-opacity="0.78"/>
<circle cx="408.2" cy="192.5" r="8.5" fill="#8510d8" fill-opacity="0.78"/>
<circle cx="397.0" cy="232.0" r="8.5" fill="#a9b8ff"/>
<circle cx="428.2" cy="215.2" r="8.5" fill="#8510d8" fill-opacity="0.78"/>
<circle cx="430.5" cy="230.0" r="8.5" fill="#a9b8ff"/>
<circle cx="347.0" cy="233.0" r="8.5" fill="#a9b8ff"/>
<circle cx="400.0" cy="240.0" r="8.5" fill="#a9b8ff"/>
<circle cx="377.0" cy="255.0" r="8.5" fill="#a9b8ff"/>
<circle cx="312.0" cy="256.0" r="8.5" fill="#a9b8ff"/>
<circle cx="330.0" cy="176.0" r="8.5" fill="#a9b8ff"/>
<circle cx="347.0" cy="176.0" r="8.5" fill="#a9b8ff"/>
<circle cx="398.0" cy="178.0" r="8.5" fill="#a9b8ff"/>
<circle cx="343.0" cy="262.0" r="8.5" fill="#b972ff"/>
<circle cx="322.0" cy="268.0" r="8.5" fill="#b972ff"/>
<circle cx="300.0" cy="250.0" r="8.5" fill="#b972ff"/>
</g>
<line x1="74.0" y1="489.9" x2="495.5" y2="72.0" stroke="#000" stroke-width="2.4" stroke-opacity="0.5"/>
<rect x="74.0" y="72.0" width="421.5" height="417.9" fill="none" stroke="#000" stroke-width="2.5"/>
<line x1="111.60" y1="490.9" x2="111.60" y2="497.5" stroke="#333" stroke-width="2"/>
<line x1="73.0" y1="452.30" x2="66.4" y2="452.30" stroke="#333" stroke-width="2"/>
<text x="111.30" y="525.3" text-anchor="middle" font-size="29.6">0</text>
<text x="62.6" y="463.00" text-anchor="end" font-size="30">0</text>
<line x1="211.10" y1="490.9" x2="211.10" y2="497.5" stroke="#333" stroke-width="2"/>
<line x1="73.0" y1="353.30" x2="66.4" y2="353.30" stroke="#333" stroke-width="2"/>
<text x="210.80" y="525.3" text-anchor="middle" font-size="29.6">25</text>
<text x="62.6" y="364.00" text-anchor="end" font-size="30">25</text>
<line x1="310.60" y1="490.9" x2="310.60" y2="497.5" stroke="#333" stroke-width="2"/>
<line x1="73.0" y1="254.30" x2="66.4" y2="254.30" stroke="#333" stroke-width="2"/>
<text x="310.50" y="525.3" text-anchor="middle" font-size="29.6">50</text>
<text x="62.6" y="265.00" text-anchor="end" font-size="30">50</text>
<line x1="410.10" y1="490.9" x2="410.10" y2="497.5" stroke="#333" stroke-width="2"/>
<line x1="73.0" y1="155.30" x2="66.4" y2="155.30" stroke="#333" stroke-width="2"/>
<text x="410.80" y="525.3" text-anchor="middle" font-size="29.6">75</text>
<text x="62.6" y="166.00" text-anchor="end" font-size="30">75</text>
</g>
<g id="panelB">
<line x1="513.0" y1="489.9" x2="930.5" y2="72.0" stroke="#000" stroke-width="2.6"/>
<g stroke="#000" stroke-width="1.15" stroke-opacity="0.9" fill-opacity="0.5">
<circle cx="690.9" cy="231.4" r="8.5" fill="#8510d8"/>
<circle cx="701.3" cy="231.4" r="8.5" fill="#8510d8"/>
<circle cx="705.8" cy="231.4" r="8.5" fill="#8510d8"/>
<circle cx="728.2" cy="230.5" r="8.5" fill="#8510d8"/>
<circle cx="729.0" cy="230.8" r="8.5" fill="#8510d8"/>
<circle cx="732.4" cy="231.0" r="8.5" fill="#8510d8"/>
<circle cx="734.7" cy="230.8" r="8.5" fill="#8510d8"/>
<circle cx="737.8" cy="231.3" r="8.5" fill="#8510d8"/>
<circle cx="741.2" cy="231.4" r="8.5" fill="#8510d8"/>
<circle cx="744.9" cy="230.8" r="8.5" fill="#b972ff"/>
<circle cx="746.9" cy="230.3" r="8.5" fill="#8510d8"/>
<circle cx="749.7" cy="230.6" r="8.5" fill="#8510d8"/>
<circle cx="753.8" cy="231.3" r="8.5" fill="#8510d8"/>
<circle cx="757.5" cy="230.1" r="8.5" fill="#8510d8"/>
<circle cx="760.9" cy="231.4" r="8.5" fill="#8510d8"/>
<circle cx="761.9" cy="231.3" r="8.5" fill="#b972ff"/>
<circle cx="764.2" cy="230.6" r="8.5" fill="#8510d8"/>
<circle cx="768.2" cy="230.2" r="8.5" fill="#8510d8"/>
<circle cx="770.2" cy="231.0" r="8.5" fill="#b972ff"/>
<circle cx="773.1" cy="230.7" r="8.5" fill="#8510d8"/>
<circle cx="778.2" cy="230.4" r="8.5" fill="#8510d8"/>
<circle cx="778.4" cy="231.6" r="8.5" fill="#8510d8"/>
<circle cx="782.3" cy="230.1" r="8.5" fill="#8510d8"/>
<circle cx="785.8" cy="230.8" r="8.5" fill="#b972ff"/>
<circle cx="789.5" cy="231.4" r="8.5" fill="#8510d8"/>
<circle cx="791.8" cy="231.2" r="8.5" fill="#8510d8"/>
<circle cx="793.1" cy="230.9" r="8.5" fill="#8510d8"/>
<circle cx="797.6" cy="230.3" r="8.5" fill="#8510d8"/>
<circle cx="801.2" cy="231.6" r="8.5" fill="#8510d8"/>
<circle cx="804.5" cy="230.3" r="8.5" fill="#8510d8"/>
<circle cx="807.2" cy="230.1" r="8.5" fill="#8510d8"/>
<circle cx="809.0" cy="231.4" r="8.5" fill="#8510d8"/>
<circle cx="810.5" cy="230.1" r="8.5" fill="#b972ff"/>
<circle cx="813.7" cy="231.5" r="8.5" fill="#8510d8"/>
<circle cx="818.1" cy="231.0" r="8.5" fill="#8510d8"/>
<circle cx="820.3" cy="230.8" r="8.5" fill="#8510d8"/>
<circle cx="823.0" cy="230.2" r="8.5" fill="#8510d8"/>
<circle cx="826.3" cy="230.7" r="8.5" fill="#8510d8"/>
<circle cx="830.1" cy="230.8" r="8.5" fill="#8510d8"/>
<circle cx="833.3" cy="230.3" r="8.5" fill="#8510d8"/>
<circle cx="836.0" cy="231.5" r="8.5" fill="#8510d8"/>
<circle cx="839.0" cy="231.3" r="8.5" fill="#8510d8"/>
<circle cx="842.2" cy="231.4" r="8.5" fill="#8510d8"/>
<circle cx="844.2" cy="231.6" r="8.5" fill="#b972ff"/>
<circle cx="846.2" cy="230.8" r="8.5" fill="#8510d8"/>
<circle cx="850.0" cy="230.6" r="8.5" fill="#8510d8"/>
<circle cx="853.2" cy="231.2" r="8.5" fill="#8510d8"/>
<circle cx="855.6" cy="230.7" r="8.5" fill="#8510d8"/>
<circle cx="857.3" cy="230.7" r="8.5" fill="#8510d8"/>
<circle cx="860.2" cy="230.9" r="8.5" fill="#8510d8"/>
<circle cx="863.6" cy="230.4" r="8.5" fill="#8510d8"/>
<circle cx="865.9" cy="231.5" r="8.5" fill="#b972ff"/>
<circle cx="868.9" cy="231.0" r="8.5" fill="#8510d8"/>
<circle cx="873.7" cy="230.9" r="8.5" fill="#8510d8"/>
<circle cx="876.8" cy="230.4" r="8.5" fill="#8510d8"/>
<circle cx="747.0" cy="231.4" r="8.5" fill="#a9b8ff"/>
<circle cx="829.6" cy="229.4" r="8.5" fill="#a9b8ff"/>
<circle cx="594.0" cy="251.8" r="8.5" fill="#a9b8ff"/>
<circle cx="602.7" cy="251.0" r="8.5" fill="#a9b8ff"/>
<circle cx="610.5" cy="253.5" r="8.5" fill="#a9b8ff"/>
<circle cx="634.0" cy="250.5" r="8.5" fill="#a9b8ff"/>
<circle cx="628.0" cy="254.5" r="8.5" fill="#b972ff"/>
<circle cx="680.4" cy="253.0" r="8.5" fill="#8510d8"/>
<circle cx="684.1" cy="254.8" r="8.5" fill="#8510d8"/>
<circle cx="687.0" cy="252.9" r="8.5" fill="#8510d8"/>
<circle cx="690.6" cy="254.1" r="8.5" fill="#b972ff"/>
<circle cx="694.5" cy="251.5" r="8.5" fill="#8510d8"/>
<circle cx="699.8" cy="253.3" r="8.5" fill="#8510d8"/>
<circle cx="701.9" cy="254.4" r="8.5" fill="#b972ff"/>
<circle cx="705.7" cy="252.7" r="8.5" fill="#8510d8"/>
<circle cx="707.5" cy="252.2" r="8.5" fill="#8510d8"/>
<circle cx="712.7" cy="254.5" r="8.5" fill="#8510d8"/>
<circle cx="716.0" cy="254.0" r="8.5" fill="#8510d8"/>
<circle cx="718.3" cy="254.4" r="8.5" fill="#8510d8"/>
<circle cx="724.2" cy="253.2" r="8.5" fill="#8510d8"/>
<circle cx="725.5" cy="251.9" r="8.5" fill="#8510d8"/>
<circle cx="730.3" cy="254.4" r="8.5" fill="#8510d8"/>
<circle cx="733.5" cy="251.5" r="8.5" fill="#8510d8"/>
<circle cx="737.3" cy="252.9" r="8.5" fill="#8510d8"/>
<circle cx="740.9" cy="253.3" r="8.5" fill="#8510d8"/>
<circle cx="743.0" cy="254.5" r="8.5" fill="#8510d8"/>
<circle cx="748.3" cy="251.8" r="8.5" fill="#8510d8"/>
<circle cx="750.1" cy="253.2" r="8.5" fill="#b972ff"/>
<circle cx="755.2" cy="252.3" r="8.5" fill="#8510d8"/>
<circle cx="757.6" cy="251.6" r="8.5" fill="#8510d8"/>
<circle cx="761.5" cy="253.6" r="8.5" fill="#8510d8"/>
<circle cx="762.5" cy="254.8" r="8.5" fill="#8510d8"/>
<circle cx="769.3" cy="251.9" r="8.5" fill="#8510d8"/>
<circle cx="771.9" cy="254.4" r="8.5" fill="#b972ff"/>
<circle cx="776.0" cy="254.0" r="8.5" fill="#b972ff"/>
<circle cx="777.6" cy="254.7" r="8.5" fill="#b972ff"/>
<circle cx="780.8" cy="254.9" r="8.5" fill="#8510d8"/>
<circle cx="784.9" cy="251.5" r="8.5" fill="#8510d8"/>
<circle cx="789.5" cy="251.5" r="8.5" fill="#8510d8"/>
<circle cx="793.5" cy="253.7" r="8.5" fill="#8510d8"/>
<circle cx="794.2" cy="252.3" r="8.5" fill="#8510d8"/>
<circle cx="799.8" cy="251.5" r="8.5" fill="#8510d8"/>
<circle cx="803.7" cy="252.1" r="8.5" fill="#8510d8"/>
<circle cx="804.0" cy="253.7" r="8.5" fill="#8510d8"/>
<circle cx="809.0" cy="254.0" r="8.5" fill="#8510d8"/>
<circle cx="811.2" cy="251.8" r="8.5" fill="#b972ff"/>
<circle cx="814.9" cy="251.9" r="8.5" fill="#8510d8"/>
<circle cx="819.4" cy="254.2" r="8.5" fill="#8510d8"/>
<circle cx="821.6" cy="252.9" r="8.5" fill="#8510d8"/>
<circle cx="825.1" cy="252.3" r="8.5" fill="#8510d8"/>
<circle cx="828.9" cy="253.5" r="8.5" fill="#8510d8"/>
<circle cx="834.1" cy="254.8" r="8.5" fill="#8510d8"/>
<circle cx="835.0" cy="252.8" r="8.5" fill="#8510d8"/>
<circle cx="839.9" cy="253.6" r="8.5" fill="#b972ff"/>
<circle cx="842.0" cy="254.2" r="8.5" fill="#8510d8"/>
<circle cx="846.5" cy="254.5" r="8.5" fill="#8510d8"/>
<circle cx="851.3" cy="255.0" r="8.5" fill="#b972ff"/>
<circle cx="855.0" cy="254.4" r="8.5" fill="#8510d8"/>
<circle cx="858.6" cy="252.6" r="8.5" fill="#8510d8"/>
<circle cx="859.6" cy="254.8" r="8.5" fill="#8510d8"/>
<circle cx="863.4" cy="253.8" r="8.5" fill="#8510d8"/>
<circle cx="804.4" cy="251.8" r="8.5" fill="#a9b8ff"/>
<circle cx="859.0" cy="251.8" r="8.5" fill="#a9b8ff"/>
<circle cx="709.1" cy="253.2" r="8.5" fill="#a9b8ff"/>
<circle cx="691.0" cy="266.2" r="8.5" fill="#8510d8"/>
<circle cx="694.6" cy="264.9" r="8.5" fill="#8510d8"/>
<circle cx="700.1" cy="264.7" r="8.5" fill="#8510d8"/>
<circle cx="704.6" cy="268.1" r="8.5" fill="#b972ff"/>
<circle cx="706.3" cy="267.4" r="8.5" fill="#8510d8"/>
<circle cx="711.2" cy="264.3" r="8.5" fill="#8510d8"/>
<circle cx="713.8" cy="267.8" r="8.5" fill="#8510d8"/>
<circle cx="717.2" cy="266.3" r="8.5" fill="#8510d8"/>
<circle cx="721.7" cy="264.5" r="8.5" fill="#8510d8"/>
<circle cx="722.4" cy="265.9" r="8.5" fill="#8510d8"/>
<circle cx="728.7" cy="264.6" r="8.5" fill="#8510d8"/>
<circle cx="730.1" cy="264.6" r="8.5" fill="#8510d8"/>
<circle cx="734.4" cy="267.7" r="8.5" fill="#8510d8"/>
<circle cx="736.0" cy="266.3" r="8.5" fill="#8510d8"/>
<circle cx="739.7" cy="266.2" r="8.5" fill="#8510d8"/>
<circle cx="745.7" cy="266.4" r="8.5" fill="#8510d8"/>
<circle cx="747.0" cy="264.5" r="8.5" fill="#8510d8"/>
<circle cx="751.4" cy="265.9" r="8.5" fill="#b972ff"/>
<circle cx="755.4" cy="266.7" r="8.5" fill="#8510d8"/>
<circle cx="757.1" cy="265.6" r="8.5" fill="#8510d8"/>
<circle cx="763.0" cy="266.6" r="8.5" fill="#8510d8"/>
<circle cx="765.0" cy="264.2" r="8.5" fill="#8510d8"/>
<circle cx="767.9" cy="266.2" r="8.5" fill="#8510d8"/>
<circle cx="771.6" cy="265.7" r="8.5" fill="#8510d8"/>
<circle cx="776.9" cy="267.6" r="8.5" fill="#8510d8"/>
<circle cx="778.0" cy="265.4" r="8.5" fill="#8510d8"/>
<circle cx="781.5" cy="265.3" r="8.5" fill="#8510d8"/>
<circle cx="786.7" cy="266.3" r="8.5" fill="#8510d8"/>
<circle cx="789.6" cy="265.9" r="8.5" fill="#8510d8"/>
<circle cx="791.1" cy="267.5" r="8.5" fill="#8510d8"/>
<circle cx="795.6" cy="264.6" r="8.5" fill="#b972ff"/>
<circle cx="798.6" cy="267.1" r="8.5" fill="#8510d8"/>
<circle cx="801.8" cy="266.8" r="8.5" fill="#8510d8"/>
<circle cx="805.2" cy="266.6" r="8.5" fill="#8510d8"/>
<circle cx="811.1" cy="267.5" r="8.5" fill="#b972ff"/>
<circle cx="811.9" cy="267.1" r="8.5" fill="#b972ff"/>
<circle cx="817.7" cy="265.2" r="8.5" fill="#8510d8"/>
<circle cx="820.7" cy="267.8" r="8.5" fill="#8510d8"/>
<circle cx="822.4" cy="264.5" r="8.5" fill="#b972ff"/>
<circle cx="826.8" cy="266.5" r="8.5" fill="#8510d8"/>
<circle cx="830.6" cy="264.7" r="8.5" fill="#8510d8"/>
<circle cx="835.2" cy="267.6" r="8.5" fill="#8510d8"/>
<circle cx="837.9" cy="267.5" r="8.5" fill="#8510d8"/>
<circle cx="841.6" cy="267.0" r="8.5" fill="#8510d8"/>
<circle cx="843.7" cy="266.2" r="8.5" fill="#8510d8"/>
<circle cx="848.2" cy="265.4" r="8.5" fill="#8510d8"/>
<circle cx="852.3" cy="268.1" r="8.5" fill="#b972ff"/>
<circle cx="854.3" cy="264.9" r="8.5" fill="#8510d8"/>
<circle cx="857.5" cy="265.9" r="8.5" fill="#8510d8"/>
<circle cx="861.2" cy="264.5" r="8.5" fill="#8510d8"/>
<circle cx="866.5" cy="268.0" r="8.5" fill="#8510d8"/>
<circle cx="868.9" cy="268.0" r="8.5" fill="#8510d8"/>
<circle cx="789.0" cy="267.2" r="8.5" fill="#a9b8ff"/>
<circle cx="828.2" cy="265.8" r="8.5" fill="#a9b8ff"/>
<circle cx="827.6" cy="265.2" r="8.5" fill="#8510d8"/>
<circle cx="834.1" cy="263.5" r="8.5" fill="#8510d8"/>
<circle cx="836.4" cy="264.0" r="8.5" fill="#8510d8"/>
<circle cx="840.0" cy="264.5" r="8.5" fill="#8510d8"/>
<circle cx="845.5" cy="264.2" r="8.5" fill="#8510d8"/>
<circle cx="846.8" cy="264.3" r="8.5" fill="#8510d8"/>
<circle cx="849.3" cy="264.5" r="8.5" fill="#8510d8"/>
<circle cx="853.3" cy="264.4" r="8.5" fill="#8510d8"/>
<circle cx="859.1" cy="265.2" r="8.5" fill="#8510d8"/>
<circle cx="864.0" cy="264.2" r="8.5" fill="#8510d8"/>
<circle cx="867.0" cy="264.8" r="8.5" fill="#8510d8"/>
<circle cx="870.7" cy="263.8" r="8.5" fill="#8510d8"/>
<circle cx="586.4" cy="295.3" r="8.5" fill="#8510d8"/>
<circle cx="608.3" cy="295.3" r="8.5" fill="#8510d8"/>
<circle cx="622.3" cy="295.3" r="8.5" fill="#8510d8"/>
<circle cx="648.9" cy="295.3" r="8.5" fill="#8510d8"/>
<circle cx="630.7" cy="295.3" r="8.5" fill="#8510d8"/>
<circle cx="669.3" cy="295.3" r="8.5" fill="#a9b8ff"/>
<circle cx="708.9" cy="295.4" r="8.5" fill="#8510d8"/>
<circle cx="713.3" cy="295.0" r="8.5" fill="#8510d8"/>
<circle cx="716.2" cy="295.3" r="8.5" fill="#8510d8"/>
<circle cx="722.4" cy="295.0" r="8.5" fill="#b972ff"/>
<circle cx="724.4" cy="294.7" r="8.5" fill="#8510d8"/>
<circle cx="726.8" cy="293.8" r="8.5" fill="#8510d8"/>
<circle cx="731.9" cy="294.4" r="8.5" fill="#8510d8"/>
<circle cx="737.1" cy="295.1" r="8.5" fill="#8510d8"/>
<circle cx="734.4" cy="294.3" r="8.5" fill="#8510d8"/>
<circle cx="738.0" cy="295.5" r="8.5" fill="#8510d8"/>
<circle cx="739.6" cy="294.9" r="8.5" fill="#8510d8"/>
<circle cx="742.3" cy="294.1" r="8.5" fill="#8510d8"/>
<circle cx="744.7" cy="294.2" r="8.5" fill="#8510d8"/>
<circle cx="746.6" cy="294.7" r="8.5" fill="#8510d8"/>
<circle cx="747.7" cy="294.5" r="8.5" fill="#8510d8"/>
<circle cx="749.8" cy="294.7" r="8.5" fill="#8510d8"/>
<circle cx="752.8" cy="293.9" r="8.5" fill="#8510d8"/>
<circle cx="754.3" cy="294.7" r="8.5" fill="#8510d8"/>
<circle cx="757.1" cy="295.3" r="8.5" fill="#8510d8"/>
<circle cx="758.4" cy="295.1" r="8.5" fill="#8510d8"/>
<circle cx="761.7" cy="295.1" r="8.5" fill="#8510d8"/>
<circle cx="763.3" cy="293.8" r="8.5" fill="#8510d8"/>
<circle cx="766.1" cy="293.8" r="8.5" fill="#8510d8"/>
<circle cx="767.3" cy="294.5" r="8.5" fill="#8510d8"/>
<circle cx="769.2" cy="294.9" r="8.5" fill="#8510d8"/>
<circle cx="773.3" cy="293.8" r="8.5" fill="#8510d8"/>
<circle cx="774.0" cy="293.8" r="8.5" fill="#8510d8"/>
<circle cx="777.6" cy="294.3" r="8.5" fill="#8510d8"/>
<circle cx="769.4" cy="295.3" r="8.5" fill="#a9b8ff"/>
<circle cx="802.5" cy="293.6" r="8.5" fill="#8510d8"/>
<circle cx="804.3" cy="295.6" r="8.5" fill="#8510d8"/>
<circle cx="805.4" cy="293.8" r="8.5" fill="#b972ff"/>
<circle cx="809.6" cy="293.9" r="8.5" fill="#8510d8"/>
<circle cx="811.4" cy="294.1" r="8.5" fill="#b972ff"/>
<circle cx="814.9" cy="292.9" r="8.5" fill="#8510d8"/>
<circle cx="815.9" cy="293.2" r="8.5" fill="#8510d8"/>
<circle cx="820.4" cy="293.8" r="8.5" fill="#8510d8"/>
<circle cx="821.4" cy="294.2" r="8.5" fill="#8510d8"/>
<circle cx="824.0" cy="294.6" r="8.5" fill="#8510d8"/>
<circle cx="828.0" cy="295.1" r="8.5" fill="#8510d8"/>
<circle cx="829.0" cy="293.8" r="8.5" fill="#8510d8"/>
<circle cx="831.9" cy="293.4" r="8.5" fill="#8510d8"/>
<circle cx="833.3" cy="292.7" r="8.5" fill="#b972ff"/>
<circle cx="837.8" cy="294.8" r="8.5" fill="#8510d8"/>
<circle cx="838.5" cy="294.3" r="8.5" fill="#8510d8"/>
<circle cx="856.2" cy="295.3" r="8.5" fill="#8510d8"/>
<circle cx="865.5" cy="295.3" r="8.5" fill="#a9b8ff"/>
<circle cx="865.5" cy="295.3" r="8.5" fill="#b972ff"/>
<circle cx="586.4" cy="351.0" r="8.5" fill="#8510d8"/>
<circle cx="604.1" cy="350.6" r="8.5" fill="#8510d8"/>
<circle cx="609.7" cy="350.4" r="8.5" fill="#8510d8"/>
<circle cx="619.5" cy="351.1" r="8.5" fill="#8510d8"/>
<circle cx="625.1" cy="349.9" r="8.5" fill="#8510d8"/>
<circle cx="629.3" cy="350.2" r="8.5" fill="#8510d8"/>
<circle cx="647.5" cy="349.9" r="8.5" fill="#8510d8"/>
<circle cx="651.7" cy="350.3" r="8.5" fill="#8510d8"/>
<circle cx="664.3" cy="350.7" r="8.5" fill="#8510d8"/>
<circle cx="669.9" cy="350.6" r="8.5" fill="#8510d8"/>
<circle cx="676.9" cy="350.1" r="8.5" fill="#8510d8"/>
<circle cx="680.6" cy="350.4" r="8.5" fill="#8510d8"/>
<circle cx="707.7" cy="349.9" r="8.5" fill="#8510d8"/>
<circle cx="713.3" cy="351.2" r="8.5" fill="#8510d8"/>
<circle cx="730.1" cy="350.8" r="8.5" fill="#a9b8ff"/>
<circle cx="730.1" cy="351.3" r="8.5" fill="#b972ff"/>
<circle cx="740.0" cy="351.5" r="8.5" fill="#8510d8"/>
<circle cx="740.5" cy="350.7" r="8.5" fill="#a9b8ff"/>
<circle cx="756.2" cy="350.3" r="8.5" fill="#8510d8"/>
<circle cx="773.6" cy="351.4" r="8.5" fill="#8510d8"/>
<circle cx="776.4" cy="350.5" r="8.5" fill="#8510d8"/>
<circle cx="542.4" cy="425.6" r="8.5" fill="#8510d8"/>
<circle cx="548.0" cy="425.9" r="8.5" fill="#8510d8"/>
<circle cx="557.8" cy="425.1" r="8.5" fill="#8510d8"/>
<circle cx="560.6" cy="426.3" r="8.5" fill="#8510d8"/>
<circle cx="564.8" cy="426.2" r="8.5" fill="#8510d8"/>
<circle cx="569.0" cy="425.0" r="8.5" fill="#8510d8"/>
<circle cx="573.2" cy="426.5" r="8.5" fill="#8510d8"/>
<circle cx="576.9" cy="426.3" r="8.5" fill="#8510d8"/>
<circle cx="580.2" cy="426.4" r="8.5" fill="#8510d8"/>
<circle cx="587.3" cy="424.9" r="8.5" fill="#8510d8"/>
<circle cx="680.6" cy="425.2" r="8.5" fill="#ff3cae"/>
<circle cx="714.7" cy="426.2" r="8.5" fill="#a9b8ff"/>
<circle cx="721.7" cy="424.5" r="8.5" fill="#a9b8ff"/>
<circle cx="731.5" cy="424.1" r="8.5" fill="#8510d8"/>
<circle cx="734.4" cy="426.2" r="8.5" fill="#a9b8ff"/>
<circle cx="740.0" cy="426.1" r="8.5" fill="#8510d8"/>
<circle cx="751.2" cy="426.4" r="8.5" fill="#8510d8"/>
<circle cx="754.0" cy="424.7" r="8.5" fill="#a9b8ff"/>
<circle cx="756.8" cy="424.6" r="8.5" fill="#b972ff"/>
<circle cx="762.4" cy="426.7" r="8.5" fill="#a9b8ff"/>
<circle cx="769.4" cy="424.3" r="8.5" fill="#b972ff"/>
<circle cx="789.8" cy="426.8" r="8.5" fill="#8510d8"/>
</g>
<line x1="513.0" y1="489.9" x2="930.5" y2="72.0" stroke="#000" stroke-width="2.4" stroke-opacity="0.5"/>
<rect x="513.0" y="72.0" width="417.5" height="417.9" fill="none" stroke="#000" stroke-width="2.5"/>
<line x1="520.00" y1="490.9" x2="520.00" y2="497.5" stroke="#333" stroke-width="2"/>
<line x1="512.0" y1="483.00" x2="505.4" y2="483.00" stroke="#333" stroke-width="2"/>
<text x="522.40" y="525.3" text-anchor="middle" font-size="29.6">0</text>
<line x1="626.85" y1="490.9" x2="626.85" y2="497.5" stroke="#333" stroke-width="2"/>
<line x1="512.0" y1="375.75" x2="505.4" y2="375.75" stroke="#333" stroke-width="2"/>
<text x="630.20" y="525.3" text-anchor="middle" font-size="29.6">25</text>
<line x1="733.70" y1="490.9" x2="733.70" y2="497.5" stroke="#333" stroke-width="2"/>
<line x1="512.0" y1="268.50" x2="505.4" y2="268.50" stroke="#333" stroke-width="2"/>
<text x="737.40" y="525.3" text-anchor="middle" font-size="29.6">50</text>
<line x1="840.55" y1="490.9" x2="840.55" y2="497.5" stroke="#333" stroke-width="2"/>
<line x1="512.0" y1="161.25" x2="505.4" y2="161.25" stroke="#333" stroke-width="2"/>
<text x="845.00" y="525.3" text-anchor="middle" font-size="29.6">75</text>
</g>
<g id="panelC">
<line x1="951.0" y1="489.9" x2="1371.5" y2="72.0" stroke="#000" stroke-width="2.6"/>
<g stroke="#000" stroke-width="1.15" stroke-opacity="0.9" fill-opacity="0.5">
<circle cx="975.7" cy="255.2" r="8.5" fill="#4f9bff"/>
<circle cx="979.9" cy="255.3" r="8.5" fill="#4f9bff"/>
<circle cx="981.7" cy="255.5" r="8.5" fill="#4f9bff"/>
<circle cx="987.4" cy="257.5" r="8.5" fill="#4f9bff"/>
<circle cx="994.1" cy="258.2" r="8.5" fill="#4f9bff"/>
<circle cx="995.4" cy="257.1" r="8.5" fill="#4f9bff"/>
<circle cx="1002.1" cy="258.0" r="8.5" fill="#4f9bff"/>
<circle cx="1003.8" cy="255.4" r="8.5" fill="#4f9bff"/>
<circle cx="1012.0" cy="258.0" r="8.5" fill="#4f9bff"/>
<circle cx="1013.1" cy="254.9" r="8.5" fill="#4f9bff"/>
<circle cx="1073.5" cy="257.4" r="8.5" fill="#4f9bff"/>
<circle cx="1074.5" cy="257.2" r="8.5" fill="#4f9bff"/>
<circle cx="1085.2" cy="256.3" r="8.5" fill="#4f9bff"/>
<circle cx="1095.4" cy="257.2" r="8.5" fill="#4f9bff"/>
<circle cx="1135.4" cy="256.4" r="8.5" fill="#4f9bff"/>
<circle cx="1007.3" cy="269.7" r="8.5" fill="#4f9bff"/>
<circle cx="1003.1" cy="271.1" r="8.5" fill="#4f9bff"/>
<circle cx="1074.9" cy="307.7" r="8.5" fill="#4f9bff"/>
<circle cx="1079.9" cy="308.5" r="8.5" fill="#4f9bff"/>
<circle cx="1180.4" cy="209.7" r="8.5" fill="#4f9bff"/>
<circle cx="1222.6" cy="233.3" r="8.5" fill="#4f9bff"/>
<circle cx="1228.3" cy="234.8" r="8.5" fill="#4f9bff"/>
<circle cx="1235.4" cy="234.8" r="8.5" fill="#4f9bff"/>
<circle cx="1238.6" cy="234.7" r="8.5" fill="#4f9bff"/>
<circle cx="1219.4" cy="244.8" r="8.5" fill="#4f9bff"/>
<circle cx="1225.4" cy="244.1" r="8.5" fill="#4f9bff"/>
<circle cx="1229.4" cy="243.9" r="8.5" fill="#4f9bff"/>
<circle cx="970.9" cy="226.1" r="8.5" fill="#103a70"/>
<circle cx="974.7" cy="223.9" r="8.5" fill="#103a70"/>
<circle cx="975.8" cy="224.4" r="8.5" fill="#103a70"/>
<circle cx="978.9" cy="224.6" r="8.5" fill="#103a70"/>
<circle cx="982.2" cy="224.4" r="8.5" fill="#103a70"/>
<circle cx="984.2" cy="224.6" r="8.5" fill="#103a70"/>
<circle cx="985.9" cy="223.6" r="8.5" fill="#103a70"/>
<circle cx="988.2" cy="224.7" r="8.5" fill="#103a70"/>
<circle cx="990.9" cy="223.6" r="8.5" fill="#103a70"/>
<circle cx="993.6" cy="223.7" r="8.5" fill="#103a70"/>
<circle cx="995.9" cy="225.2" r="8.5" fill="#103a70"/>
<circle cx="998.8" cy="223.8" r="8.5" fill="#103a70"/>
<circle cx="1000.7" cy="223.5" r="8.5" fill="#103a70"/>
<circle cx="1004.1" cy="223.5" r="8.5" fill="#103a70"/>
<circle cx="1006.7" cy="224.1" r="8.5" fill="#103a70"/>
<circle cx="1009.4" cy="225.4" r="8.5" fill="#103a70"/>
<circle cx="1010.3" cy="224.9" r="8.5" fill="#103a70"/>
<circle cx="1013.5" cy="225.6" r="8.5" fill="#103a70"/>
<circle cx="1015.1" cy="223.1" r="8.5" fill="#103a70"/>
<circle cx="1018.4" cy="223.3" r="8.5" fill="#103a70"/>
<circle cx="1020.4" cy="223.4" r="8.5" fill="#103a70"/>
<circle cx="1022.9" cy="223.6" r="8.5" fill="#103a70"/>
<circle cx="1025.7" cy="224.0" r="8.5" fill="#103a70"/>
<circle cx="1038.3" cy="223.8" r="8.5" fill="#103a70"/>
<circle cx="1049.5" cy="228.8" r="8.5" fill="#103a70"/>
<circle cx="1053.8" cy="229.7" r="8.5" fill="#103a70"/>
<circle cx="1065.0" cy="223.2" r="8.5" fill="#103a70"/>
<circle cx="1105.3" cy="225.5" r="8.5" fill="#103a70"/>
<circle cx="1125.5" cy="225.5" r="8.5" fill="#103a70"/>
<circle cx="1135.4" cy="225.5" r="8.5" fill="#103a70"/>
<circle cx="1131.2" cy="231.6" r="8.5" fill="#103a70"/>
<circle cx="1125.5" cy="234.5" r="8.5" fill="#103a70"/>
<circle cx="1134.0" cy="234.5" r="8.5" fill="#103a70"/>
<circle cx="1150.6" cy="223.1" r="8.5" fill="#103a70"/>
<circle cx="1157.2" cy="223.5" r="8.5" fill="#103a70"/>
<circle cx="1160.5" cy="223.7" r="8.5" fill="#103a70"/>
<circle cx="1164.0" cy="225.9" r="8.5" fill="#103a70"/>
<circle cx="1170.0" cy="223.1" r="8.5" fill="#103a70"/>
<circle cx="1175.2" cy="226.8" r="8.5" fill="#103a70"/>
<circle cx="1179.8" cy="226.9" r="8.5" fill="#103a70"/>
<circle cx="1180.5" cy="223.2" r="8.5" fill="#103a70"/>
<circle cx="986.4" cy="241.0" r="8.5" fill="#103a70"/>
<circle cx="989.6" cy="240.1" r="8.5" fill="#103a70"/>
<circle cx="995.8" cy="243.3" r="8.5" fill="#103a70"/>
<circle cx="998.2" cy="242.8" r="8.5" fill="#103a70"/>
<circle cx="1002.4" cy="241.4" r="8.5" fill="#103a70"/>
<circle cx="1007.2" cy="243.7" r="8.5" fill="#103a70"/>
<circle cx="1010.1" cy="239.8" r="8.5" fill="#103a70"/>
<circle cx="1015.4" cy="244.1" r="8.5" fill="#103a70"/>
<circle cx="1021.0" cy="241.7" r="8.5" fill="#103a70"/>
<circle cx="1024.2" cy="242.6" r="8.5" fill="#103a70"/>
<circle cx="1027.8" cy="243.0" r="8.5" fill="#103a70"/>
<circle cx="1030.0" cy="242.7" r="8.5" fill="#103a70"/>
<circle cx="1035.0" cy="243.8" r="8.5" fill="#103a70"/>
<circle cx="1039.3" cy="243.2" r="8.5" fill="#103a70"/>
<circle cx="1041.5" cy="240.3" r="8.5" fill="#103a70"/>
<circle cx="1045.8" cy="242.1" r="8.5" fill="#103a70"/>
<circle cx="996.2" cy="231.8" r="8.5" fill="#103a70"/>
<circle cx="1000.3" cy="236.9" r="8.5" fill="#103a70"/>
<circle cx="1008.5" cy="231.5" r="8.5" fill="#103a70"/>
<circle cx="1020.0" cy="234.9" r="8.5" fill="#103a70"/>
<circle cx="1024.7" cy="234.6" r="8.5" fill="#103a70"/>
<circle cx="1031.4" cy="237.3" r="8.5" fill="#103a70"/>
<circle cx="1015.1" cy="258.8" r="8.5" fill="#103a70"/>
<circle cx="1015.4" cy="257.6" r="8.5" fill="#103a70"/>
<circle cx="1020.0" cy="259.7" r="8.5" fill="#103a70"/>
<circle cx="1024.3" cy="255.8" r="8.5" fill="#103a70"/>
<circle cx="1027.5" cy="259.1" r="8.5" fill="#103a70"/>
<circle cx="1030.8" cy="258.1" r="8.5" fill="#103a70"/>
<circle cx="1034.2" cy="257.3" r="8.5" fill="#103a70"/>
<circle cx="1040.8" cy="257.2" r="8.5" fill="#103a70"/>
<circle cx="1043.1" cy="255.5" r="8.5" fill="#103a70"/>
<circle cx="1045.5" cy="257.3" r="8.5" fill="#103a70"/>
<circle cx="1048.8" cy="257.9" r="8.5" fill="#103a70"/>
<circle cx="1052.7" cy="258.2" r="8.5" fill="#103a70"/>
<circle cx="1056.5" cy="255.3" r="8.5" fill="#103a70"/>
<circle cx="1018.0" cy="264.0" r="8.5" fill="#103a70"/>
<circle cx="1023.3" cy="264.7" r="8.5" fill="#103a70"/>
<circle cx="1026.3" cy="260.4" r="8.5" fill="#103a70"/>
<circle cx="1029.6" cy="263.4" r="8.5" fill="#103a70"/>
<circle cx="1035.3" cy="262.4" r="8.5" fill="#103a70"/>
<circle cx="1100.7" cy="257.9" r="8.5" fill="#103a70"/>
<circle cx="1103.1" cy="257.5" r="8.5" fill="#103a70"/>
<circle cx="1107.7" cy="256.8" r="8.5" fill="#103a70"/>
<circle cx="1112.1" cy="256.0" r="8.5" fill="#103a70"/>
<circle cx="1119.6" cy="256.9" r="8.5" fill="#103a70"/>
<circle cx="1122.1" cy="256.8" r="8.5" fill="#103a70"/>
<circle cx="1130.6" cy="257.1" r="8.5" fill="#103a70"/>
<circle cx="1148.5" cy="256.3" r="8.5" fill="#103a70"/>
<circle cx="1151.4" cy="257.6" r="8.5" fill="#103a70"/>
<circle cx="1154.9" cy="257.6" r="8.5" fill="#103a70"/>
<circle cx="1156.2" cy="257.0" r="8.5" fill="#103a70"/>
<circle cx="1166.8" cy="258.9" r="8.5" fill="#103a70"/>
<circle cx="1168.7" cy="255.1" r="8.5" fill="#103a70"/>
<circle cx="1174.1" cy="254.7" r="8.5" fill="#103a70"/>
<circle cx="1179.0" cy="256.1" r="8.5" fill="#103a70"/>
<circle cx="1180.0" cy="254.7" r="8.5" fill="#103a70"/>
<circle cx="1186.5" cy="255.2" r="8.5" fill="#103a70"/>
<circle cx="1186.6" cy="255.0" r="8.5" fill="#103a70"/>
<circle cx="1191.0" cy="257.9" r="8.5" fill="#103a70"/>
<circle cx="1194.7" cy="259.6" r="8.5" fill="#103a70"/>
<circle cx="1199.4" cy="257.8" r="8.5" fill="#103a70"/>
<circle cx="1203.3" cy="260.2" r="8.5" fill="#103a70"/>
<circle cx="1204.5" cy="260.5" r="8.5" fill="#103a70"/>
<circle cx="1209.8" cy="259.8" r="8.5" fill="#103a70"/>
<circle cx="1214.5" cy="255.0" r="8.5" fill="#103a70"/>
<circle cx="1217.4" cy="259.6" r="8.5" fill="#103a70"/>
<circle cx="1222.3" cy="256.9" r="8.5" fill="#103a70"/>
<circle cx="1225.5" cy="256.7" r="8.5" fill="#103a70"/>
<circle cx="1227.9" cy="259.9" r="8.5" fill="#103a70"/>
<circle cx="1231.7" cy="255.8" r="8.5" fill="#103a70"/>
<circle cx="1236.1" cy="256.5" r="8.5" fill="#103a70"/>
<circle cx="982.0" cy="269.7" r="8.5" fill="#103a70"/>
<circle cx="993.2" cy="269.7" r="8.5" fill="#103a70"/>
<circle cx="1167.8" cy="264.0" r="8.5" fill="#103a70"/>
<circle cx="1173.4" cy="262.6" r="8.5" fill="#103a70"/>
<circle cx="1198.7" cy="262.6" r="8.5" fill="#103a70"/>
<circle cx="994.6" cy="287.4" r="8.5" fill="#103a70"/>
<circle cx="1024.2" cy="287.4" r="8.5" fill="#103a70"/>
<circle cx="1040.6" cy="287.0" r="8.5" fill="#103a70"/>
<circle cx="1045.0" cy="287.1" r="8.5" fill="#103a70"/>
<circle cx="1048.5" cy="288.1" r="8.5" fill="#103a70"/>
<circle cx="1056.6" cy="287.8" r="8.5" fill="#103a70"/>
<circle cx="1059.3" cy="286.9" r="8.5" fill="#103a70"/>
<circle cx="985.6" cy="303.4" r="8.5" fill="#103a70"/>
<circle cx="1003.2" cy="306.8" r="8.5" fill="#103a70"/>
<circle cx="1006.5" cy="310.6" r="8.5" fill="#103a70"/>
<circle cx="1008.0" cy="309.9" r="8.5" fill="#103a70"/>
<circle cx="1013.4" cy="306.8" r="8.5" fill="#103a70"/>
<circle cx="1014.9" cy="309.9" r="8.5" fill="#103a70"/>
<circle cx="1020.1" cy="306.5" r="8.5" fill="#103a70"/>
<circle cx="1022.6" cy="307.7" r="8.5" fill="#103a70"/>
<circle cx="1025.3" cy="309.9" r="8.5" fill="#103a70"/>
<circle cx="1028.7" cy="305.0" r="8.5" fill="#103a70"/>
<circle cx="1030.6" cy="310.0" r="8.5" fill="#103a70"/>
<circle cx="1035.1" cy="310.0" r="8.5" fill="#103a70"/>
<circle cx="1038.2" cy="305.6" r="8.5" fill="#103a70"/>
<circle cx="1039.5" cy="307.1" r="8.5" fill="#103a70"/>
<circle cx="1043.2" cy="310.2" r="8.5" fill="#103a70"/>
<circle cx="1046.8" cy="306.5" r="8.5" fill="#103a70"/>
<circle cx="1049.1" cy="305.1" r="8.5" fill="#103a70"/>
<circle cx="1051.8" cy="308.2" r="8.5" fill="#103a70"/>
<circle cx="1055.3" cy="310.6" r="8.5" fill="#103a70"/>
<circle cx="1058.5" cy="309.0" r="8.5" fill="#103a70"/>
<circle cx="1063.4" cy="306.6" r="8.5" fill="#103a70"/>
<circle cx="1072.1" cy="304.8" r="8.5" fill="#103a70"/>
<circle cx="1101.6" cy="309.6" r="8.5" fill="#103a70"/>
<circle cx="1107.2" cy="309.6" r="8.5" fill="#103a70"/>
<circle cx="1076.3" cy="308.2" r="8.5" fill="#4f9bff"/>
<circle cx="1015.2" cy="323.1" r="8.5" fill="#103a70"/>
<circle cx="1040.5" cy="323.1" r="8.5" fill="#103a70"/>
<circle cx="1049.5" cy="322.3" r="8.5" fill="#103a70"/>
<circle cx="1060.8" cy="323.1" r="8.5" fill="#103a70"/>
<circle cx="1059.4" cy="316.1" r="8.5" fill="#103a70"/>
<circle cx="1198.3" cy="180.7" r="8.5" fill="#103a70"/>
<circle cx="1206.5" cy="178.8" r="8.5" fill="#103a70"/>
<circle cx="1207.9" cy="179.8" r="8.5" fill="#103a70"/>
<circle cx="1214.0" cy="182.6" r="8.5" fill="#103a70"/>
<circle cx="1221.5" cy="178.9" r="8.5" fill="#103a70"/>
<circle cx="1223.7" cy="181.0" r="8.5" fill="#103a70"/>
<circle cx="1229.0" cy="181.7" r="8.5" fill="#103a70"/>
<circle cx="1233.8" cy="180.6" r="8.5" fill="#103a70"/>
<circle cx="1243.6" cy="182.9" r="8.5" fill="#103a70"/>
<circle cx="1245.3" cy="182.6" r="8.5" fill="#103a70"/>
<circle cx="1256.5" cy="172.0" r="8.5" fill="#103a70"/>
<circle cx="1260.7" cy="172.0" r="8.5" fill="#103a70"/>
<circle cx="1204.4" cy="183.8" r="8.5" fill="#103a70"/>
<circle cx="1232.7" cy="191.3" r="8.5" fill="#103a70"/>
<circle cx="1240.3" cy="189.0" r="8.5" fill="#103a70"/>
<circle cx="1245.9" cy="188.1" r="8.5" fill="#103a70"/>
<circle cx="1249.4" cy="197.1" r="8.5" fill="#103a70"/>
<circle cx="1253.0" cy="196.0" r="8.5" fill="#103a70"/>
<circle cx="1255.9" cy="192.9" r="8.5" fill="#103a70"/>
<circle cx="1265.1" cy="191.4" r="8.5" fill="#103a70"/>
<circle cx="1268.4" cy="188.8" r="8.5" fill="#103a70"/>
<circle cx="1269.9" cy="188.7" r="8.5" fill="#103a70"/>
<circle cx="1278.0" cy="190.8" r="8.5" fill="#103a70"/>
<circle cx="1280.8" cy="192.6" r="8.5" fill="#103a70"/>
<circle cx="1286.5" cy="193.8" r="8.5" fill="#103a70"/>
<circle cx="1291.2" cy="189.5" r="8.5" fill="#103a70"/>
<circle cx="1302.0" cy="203.5" r="8.5" fill="#103a70"/>
<circle cx="1308.1" cy="203.2" r="8.5" fill="#103a70"/>
<circle cx="1312.1" cy="203.0" r="8.5" fill="#103a70"/>
<circle cx="1316.4" cy="202.2" r="8.5" fill="#103a70"/>
<circle cx="1160.7" cy="209.7" r="8.5" fill="#103a70"/>
<circle cx="1165.5" cy="210.2" r="8.5" fill="#103a70"/>
<circle cx="1187.5" cy="207.3" r="8.5" fill="#103a70"/>
<circle cx="1194.1" cy="207.7" r="8.5" fill="#103a70"/>
<circle cx="1197.2" cy="212.6" r="8.5" fill="#103a70"/>
<circle cx="1198.9" cy="211.5" r="8.5" fill="#103a70"/>
<circle cx="1202.7" cy="211.0" r="8.5" fill="#103a70"/>
<circle cx="1206.6" cy="212.4" r="8.5" fill="#103a70"/>
<circle cx="1212.9" cy="210.8" r="8.5" fill="#103a70"/>
<circle cx="1214.5" cy="210.1" r="8.5" fill="#103a70"/>
<circle cx="1220.1" cy="211.6" r="8.5" fill="#103a70"/>
<circle cx="1221.9" cy="210.2" r="8.5" fill="#103a70"/>
<circle cx="1225.5" cy="207.4" r="8.5" fill="#103a70"/>
<circle cx="1230.7" cy="213.0" r="8.5" fill="#103a70"/>
<circle cx="1235.0" cy="207.0" r="8.5" fill="#103a70"/>
<circle cx="1237.4" cy="213.8" r="8.5" fill="#103a70"/>
<circle cx="1240.4" cy="206.8" r="8.5" fill="#103a70"/>
<circle cx="1242.8" cy="208.5" r="8.5" fill="#103a70"/>
<circle cx="1247.7" cy="212.6" r="8.5" fill="#103a70"/>
<circle cx="1252.4" cy="213.6" r="8.5" fill="#103a70"/>
<circle cx="1255.6" cy="210.3" r="8.5" fill="#103a70"/>
<circle cx="1260.9" cy="214.2" r="8.5" fill="#103a70"/>
<circle cx="1261.6" cy="208.8" r="8.5" fill="#103a70"/>
<circle cx="1266.0" cy="213.5" r="8.5" fill="#103a70"/>
<circle cx="1269.4" cy="212.0" r="8.5" fill="#103a70"/>
<circle cx="1274.4" cy="208.2" r="8.5" fill="#103a70"/>
<circle cx="1276.0" cy="213.3" r="8.5" fill="#103a70"/>
<circle cx="1282.2" cy="212.8" r="8.5" fill="#103a70"/>
<circle cx="1248.2" cy="218.6" r="8.5" fill="#103a70"/>
<circle cx="1249.6" cy="220.1" r="8.5" fill="#103a70"/>
<circle cx="1258.1" cy="221.8" r="8.5" fill="#103a70"/>
<circle cx="1259.1" cy="216.9" r="8.5" fill="#103a70"/>
<circle cx="1268.0" cy="220.5" r="8.5" fill="#103a70"/>
<circle cx="1271.7" cy="216.5" r="8.5" fill="#103a70"/>
<circle cx="1276.1" cy="221.3" r="8.5" fill="#103a70"/>
<circle cx="1284.5" cy="219.5" r="8.5" fill="#103a70"/>
<circle cx="1202.4" cy="227.9" r="8.5" fill="#103a70"/>
<circle cx="1207.9" cy="232.2" r="8.5" fill="#103a70"/>
<circle cx="1213.0" cy="228.0" r="8.5" fill="#103a70"/>
<circle cx="1218.0" cy="234.7" r="8.5" fill="#103a70"/>
<circle cx="1219.0" cy="235.4" r="8.5" fill="#103a70"/>
<circle cx="1224.9" cy="229.1" r="8.5" fill="#103a70"/>
<circle cx="1229.8" cy="232.7" r="8.5" fill="#103a70"/>
<circle cx="1233.4" cy="231.9" r="8.5" fill="#103a70"/>
<circle cx="1174.0" cy="240.3" r="8.5" fill="#103a70"/>
<circle cx="1175.5" cy="243.3" r="8.5" fill="#103a70"/>
<circle cx="1179.8" cy="237.6" r="8.5" fill="#103a70"/>
<circle cx="1183.8" cy="239.1" r="8.5" fill="#103a70"/>
<circle cx="1187.0" cy="239.6" r="8.5" fill="#103a70"/>
<circle cx="1192.1" cy="242.7" r="8.5" fill="#103a70"/>
<circle cx="1197.1" cy="243.0" r="8.5" fill="#103a70"/>
<circle cx="1202.9" cy="240.7" r="8.5" fill="#103a70"/>
<circle cx="1204.3" cy="240.6" r="8.5" fill="#103a70"/>
<circle cx="1207.6" cy="244.6" r="8.5" fill="#103a70"/>
<circle cx="1214.3" cy="239.4" r="8.5" fill="#103a70"/>
<circle cx="1217.1" cy="243.0" r="8.5" fill="#103a70"/>
<circle cx="1222.1" cy="244.1" r="8.5" fill="#103a70"/>
<circle cx="1225.9" cy="244.2" r="8.5" fill="#103a70"/>
<circle cx="1230.4" cy="240.7" r="8.5" fill="#103a70"/>
<circle cx="1233.6" cy="241.9" r="8.5" fill="#103a70"/>
<circle cx="1178.3" cy="248.4" r="8.5" fill="#103a70"/>
<circle cx="1186.8" cy="248.6" r="8.5" fill="#103a70"/>
<circle cx="1192.9" cy="246.9" r="8.5" fill="#103a70"/>
<circle cx="1199.6" cy="247.7" r="8.5" fill="#103a70"/>
<circle cx="1202.4" cy="249.2" r="8.5" fill="#103a70"/>
<circle cx="1212.8" cy="246.0" r="8.5" fill="#103a70"/>
<circle cx="1220.0" cy="251.1" r="8.5" fill="#103a70"/>
<circle cx="1287.4" cy="228.3" r="8.5" fill="#103a70"/>
<circle cx="1274.8" cy="240.1" r="8.5" fill="#103a70"/>
<circle cx="1290.2" cy="239.5" r="8.5" fill="#103a70"/>
<circle cx="1301.5" cy="240.1" r="8.5" fill="#103a70"/>
<circle cx="1283.2" cy="206.3" r="8.5" fill="#103a70"/>
</g>
<line x1="951.0" y1="489.9" x2="1371.5" y2="72.0" stroke="#000" stroke-width="2.4" stroke-opacity="0.5"/>
<rect x="951.0" y="72.0" width="420.5" height="417.9" fill="none" stroke="#000" stroke-width="2.5"/>
<line x1="989.50" y1="490.9" x2="989.50" y2="497.5" stroke="#333" stroke-width="2"/>
<line x1="950.0" y1="451.25" x2="943.4" y2="451.25" stroke="#333" stroke-width="2"/>
<text x="991.30" y="525.3" text-anchor="middle" font-size="29.6">0</text>
<line x1="1094.10" y1="490.9" x2="1094.10" y2="497.5" stroke="#333" stroke-width="2"/>
<line x1="950.0" y1="347.05" x2="943.4" y2="347.05" stroke="#333" stroke-width="2"/>
<text x="1098.50" y="525.3" text-anchor="middle" font-size="29.6">25</text>
<line x1="1198.70" y1="490.9" x2="1198.70" y2="497.5" stroke="#333" stroke-width="2"/>
<line x1="950.0" y1="242.85" x2="943.4" y2="242.85" stroke="#333" stroke-width="2"/>
<text x="1202.90" y="525.3" text-anchor="middle" font-size="29.6">50</text>
<line x1="1303.30" y1="490.9" x2="1303.30" y2="497.5" stroke="#333" stroke-width="2"/>
<line x1="950.0" y1="138.65" x2="943.4" y2="138.65" stroke="#333" stroke-width="2"/>
<text x="1308.20" y="525.3" text-anchor="middle" font-size="29.6">75</text>
</g>
<text x="73.5" y="34" font-size="45" textLength="28.5" lengthAdjust="spacingAndGlyphs" stroke="#fff" stroke-width="0.55">A</text>
<text x="523" y="33.5" font-size="44" textLength="25" lengthAdjust="spacingAndGlyphs" stroke="#fff" stroke-width="0.55">B</text>
<text x="958.5" y="34" font-size="47" textLength="29.5" lengthAdjust="spacingAndGlyphs" stroke="#fff" stroke-width="0.55">C</text>
<text x="7" y="636" font-size="44" textLength="32" lengthAdjust="spacingAndGlyphs" stroke="#fff" stroke-width="0.55">D</text>
<text x="149.5" y="25" font-size="30" textLength="270" lengthAdjust="spacingAndGlyphs">Training set: all data</text>
<text x="173.3" y="61.3" font-size="30" textLength="221.5" lengthAdjust="spacingAndGlyphs">Test set: all data</text>
<text x="572.5" y="25" font-size="30" textLength="299" lengthAdjust="spacingAndGlyphs">Training set: 1 or 2 sp.</text>
<text x="587.4" y="61.3" font-size="30" textLength="268.6" lengthAdjust="spacingAndGlyphs">Test set: &gt;2 species</text>
<text x="1004.2" y="25" font-size="30" textLength="315.8" lengthAdjust="spacingAndGlyphs">Training set: &gt;2 species</text>
<text x="1005.4" y="61.3" font-size="30" textLength="310.3" lengthAdjust="spacingAndGlyphs">Test set: 1 or 2 species</text>
<text x="81.3" y="558.3" font-size="30" text-anchor="start" >Observed degradation percent</text>
<text x="534.2" y="558.3" font-size="27.65" text-anchor="start" >Observed degradation percent</text>
<text x="972.3" y="558.3" font-size="27.85" text-anchor="start" >Observed degradation percent</text>
<text transform="translate(22,482) rotate(-90)" font-size="30">Predicted degradation percent</text>
<text transform="translate(488.4,472.3) scale(1,1.07)" font-size="30" text-anchor="end"><tspan font-style="italic">R</tspan><tspan font-style="italic" font-size="17" dy="-9">2</tspan><tspan dy="9" dx="-1.5"> = 0.805</tspan></text>
<text transform="translate(920.3,472.3) scale(1,1.07)" font-size="30" text-anchor="end"><tspan font-style="italic">R</tspan><tspan font-style="italic" font-size="17" dy="-9">2</tspan><tspan dy="9" dx="-1.5"> = 0.258</tspan></text>
<text transform="translate(1363.2,472.3) scale(1,1.07)" font-size="30" text-anchor="end"><tspan font-style="italic">R</tspan><tspan font-style="italic" font-size="17" dy="-9">2</tspan><tspan dy="9" dx="-1.5"> = 0.319</tspan></text>
<text x="1380" y="97.5" font-size="30" text-anchor="start" >Species</text>
<text x="1380" y="133.8" font-size="30" text-anchor="start" >richness</text>
<circle cx="1402.3" cy="168" r="9.0" fill="#4f9bff" fill-opacity="0.5" stroke="#000" stroke-width="1.1"/>
<text x="1427.5" y="178.6" font-size="30" text-anchor="start" >1</text>
<circle cx="1402.3" cy="212" r="9.0" fill="#103a70" fill-opacity="0.5" stroke="#000" stroke-width="1.1"/>
<text x="1427.5" y="222.6" font-size="30" text-anchor="start" >2</text>
<circle cx="1402.3" cy="256" r="9.0" fill="#8510d8" fill-opacity="0.5" stroke="#000" stroke-width="1.1"/>
<text x="1427.5" y="266.6" font-size="30" text-anchor="start" >4</text>
<circle cx="1402.3" cy="300" r="9.0" fill="#a9b8ff" fill-opacity="0.5" stroke="#000" stroke-width="1.1"/>
<text x="1427.5" y="310.6" font-size="30" text-anchor="start" >5</text>
<circle cx="1402.3" cy="344" r="9.0" fill="#b972ff" fill-opacity="0.5" stroke="#000" stroke-width="1.1"/>
<text x="1427.5" y="354.6" font-size="30" text-anchor="start" >6</text>
<circle cx="1402.3" cy="388" r="9.0" fill="#ffccf5" fill-opacity="0.5" stroke="#000" stroke-width="1.1"/>
<text x="1427.5" y="398.6" font-size="30" text-anchor="start" >7</text>
<circle cx="1402.3" cy="432" r="9.0" fill="#ff3cae" fill-opacity="0.5" stroke="#000" stroke-width="1.1"/>
<text x="1427.5" y="442.6" font-size="30" text-anchor="start" >11</text>
<clipPath id="c1"><path d="M60.60,666.00V748.60A15.80,13.00 0 0 0 92.20,748.60V666.00Z"/></clipPath>
<g clip-path="url(#c1)" stroke="#000" stroke-width="1.9">
<rect x="58.60" y="666.00" width="35.60" height="97.60" fill="#fff" stroke="none"/>
<rect x="58.60" y="664.00" width="35.60" height="32.60" fill="#767171"/>
<rect x="58.60" y="740.80" width="35.60" height="8.10" fill="#009E73"/>
<rect x="58.60" y="748.90" width="35.60" height="15.70" fill="#56B4E9"/>
</g>
<path d="M60.60,666.00V748.60A15.80,13.00 0 0 0 92.20,748.60V666.00Z" fill="none" stroke="#000" stroke-width="1.9"/>
<path d="M58.80,651.00H94.00L87.40,673.00H65.40Z" fill="#B6894B" stroke="#000" stroke-width="1.5" stroke-linejoin="miter"/>
<text x="76.40" y="671.30" font-size="24.6" font-weight="bold" fill="#fff" text-anchor="middle">1</text>
<clipPath id="c2"><path d="M100.10,666.00V748.60A15.70,13.00 0 0 0 131.50,748.60V666.00Z"/></clipPath>
<g clip-path="url(#c2)" stroke="#000" stroke-width="1.9">
<rect x="98.10" y="666.00" width="35.40" height="97.60" fill="#fff" stroke="none"/>
<rect x="98.10" y="664.00" width="35.40" height="32.60" fill="#767171"/>
<rect x="98.10" y="740.80" width="35.40" height="8.10" fill="#F0E442"/>
<rect x="98.10" y="748.90" width="35.40" height="15.70" fill="#E69F00"/>
</g>
<path d="M100.10,666.00V748.60A15.70,13.00 0 0 0 131.50,748.60V666.00Z" fill="none" stroke="#000" stroke-width="1.9"/>
<path d="M98.30,651.00H133.30L126.74,673.00H104.86Z" fill="#B6894B" stroke="#000" stroke-width="1.5" stroke-linejoin="miter"/>
<text x="115.80" y="671.30" font-size="24.6" font-weight="bold" fill="#fff" text-anchor="middle">2</text>
<clipPath id="c3"><path d="M139.80,666.00V748.60A15.60,13.00 0 0 0 171.00,748.60V666.00Z"/></clipPath>
<g clip-path="url(#c3)" stroke="#000" stroke-width="1.9">
<rect x="137.80" y="666.00" width="35.20" height="97.60" fill="#fff" stroke="none"/>
<rect x="137.80" y="664.00" width="35.20" height="32.60" fill="#767171"/>
<rect x="137.80" y="740.80" width="35.20" height="8.10" fill="#56B4E9"/>
<rect x="137.80" y="748.90" width="35.20" height="15.70" fill="#CC79A7"/>
</g>
<path d="M139.80,666.00V748.60A15.60,13.00 0 0 0 171.00,748.60V666.00Z" fill="none" stroke="#000" stroke-width="1.9"/>
<path d="M138.00,651.00H172.80L166.28,673.00H144.53Z" fill="#B6894B" stroke="#000" stroke-width="1.5" stroke-linejoin="miter"/>
<text x="155.40" y="671.30" font-size="24.6" font-weight="bold" fill="#fff" text-anchor="middle">3</text>
<clipPath id="c4"><path d="M60.60,787.00V869.80A15.80,13.00 0 0 0 92.20,869.80V787.00Z"/></clipPath>
<g clip-path="url(#c4)" stroke="#000" stroke-width="1.9">
<rect x="58.60" y="787.00" width="35.60" height="97.80" fill="#fff" stroke="none"/>
<rect x="58.60" y="785.00" width="35.60" height="32.60" fill="#767171"/>
<rect x="58.60" y="861.80" width="35.60" height="8.20" fill="#F0E442"/>
<rect x="58.60" y="870.00" width="35.60" height="15.80" fill="#009E73"/>
</g>
<path d="M60.60,787.00V869.80A15.80,13.00 0 0 0 92.20,869.80V787.00Z" fill="none" stroke="#000" stroke-width="1.9"/>
<path d="M58.80,772.00H94.00L87.40,794.00H65.40Z" fill="#B6894B" stroke="#000" stroke-width="1.5" stroke-linejoin="miter"/>
<text x="76.40" y="792.30" font-size="24.6" font-weight="bold" fill="#fff" text-anchor="middle">4</text>
<clipPath id="c5"><path d="M100.10,787.00V869.80A15.70,13.00 0 0 0 131.50,869.80V787.00Z"/></clipPath>
<g clip-path="url(#c5)" stroke="#000" stroke-width="1.9">
<rect x="98.10" y="787.00" width="35.40" height="97.80" fill="#fff" stroke="none"/>
<rect x="98.10" y="785.00" width="35.40" height="32.60" fill="#767171"/>
<rect x="98.10" y="861.80" width="35.40" height="8.20" fill="#E69F00"/>
<rect x="98.10" y="870.00" width="35.40" height="15.80" fill="#56B4E9"/>
</g>
<path d="M100.10,787.00V869.80A15.70,13.00 0 0 0 131.50,869.80V787.00Z" fill="none" stroke="#000" stroke-width="1.9"/>
<path d="M98.30,772.00H133.30L126.74,794.00H104.86Z" fill="#B6894B" stroke="#000" stroke-width="1.5" stroke-linejoin="miter"/>
<text x="115.80" y="792.30" font-size="24.6" font-weight="bold" fill="#fff" text-anchor="middle">5</text>
<clipPath id="c6"><path d="M139.80,787.00V869.80A15.60,13.00 0 0 0 171.00,869.80V787.00Z"/></clipPath>
<g clip-path="url(#c6)" stroke="#000" stroke-width="1.9">
<rect x="137.80" y="787.00" width="35.20" height="97.80" fill="#fff" stroke="none"/>
<rect x="137.80" y="785.00" width="35.20" height="32.60" fill="#767171"/>
<rect x="137.80" y="861.00" width="35.20" height="7.80" fill="#009E73"/>
<rect x="137.80" y="868.80" width="35.20" height="17.00" fill="#CC79A7"/>
</g>
<path d="M139.80,787.00V869.80A15.60,13.00 0 0 0 171.00,869.80V787.00Z" fill="none" stroke="#000" stroke-width="1.9"/>
<path d="M138.00,772.00H172.80L166.28,794.00H144.53Z" fill="#B6894B" stroke="#000" stroke-width="1.5" stroke-linejoin="miter"/>
<text x="155.40" y="792.30" font-size="24.6" font-weight="bold" fill="#fff" text-anchor="middle">6</text>
<clipPath id="c7"><path d="M279.00,666.00V748.60A15.75,13.00 0 0 0 310.50,748.60V666.00Z"/></clipPath>
<g clip-path="url(#c7)" stroke="#000" stroke-width="1.9">
<rect x="277.00" y="666.00" width="35.50" height="97.60" fill="#fff" stroke="none"/>
<rect x="277.00" y="664.00" width="35.50" height="32.60" fill="#7F7F7F"/>
<rect x="277.00" y="696.60" width="35.50" height="39.20" fill="#009E73"/>
<rect x="277.00" y="735.80" width="35.50" height="28.80" fill="#56B4E9"/>
</g>
<path d="M279.00,666.00V748.60A15.75,13.00 0 0 0 310.50,748.60V666.00Z" fill="none" stroke="#000" stroke-width="1.9"/>
<path d="M277.20,651.00H312.30L305.72,673.00H283.78Z" fill="#B6894B" stroke="#000" stroke-width="1.5" stroke-linejoin="miter"/>
<text x="294.75" y="671.30" font-size="24.6" font-weight="bold" fill="#fff" text-anchor="middle">1</text>
<clipPath id="c8"><path d="M321.50,666.00V748.60A15.75,13.00 0 0 0 353.00,748.60V666.00Z"/></clipPath>
<g clip-path="url(#c8)" stroke="#000" stroke-width="1.9">
<rect x="319.50" y="666.00" width="35.50" height="97.60" fill="#fff" stroke="none"/>
<rect x="319.50" y="664.00" width="35.50" height="32.60" fill="#F2F2F2"/>
<rect x="319.50" y="721.20" width="35.50" height="20.10" fill="#F0E442"/>
<rect x="319.50" y="741.30" width="35.50" height="23.30" fill="#E69F00"/>
</g>
<path d="M321.50,666.00V748.60A15.75,13.00 0 0 0 353.00,748.60V666.00Z" fill="none" stroke="#000" stroke-width="1.9"/>
<path d="M319.70,651.00H354.80L348.22,673.00H326.28Z" fill="#B6894B" stroke="#000" stroke-width="1.5" stroke-linejoin="miter"/>
<text x="337.25" y="671.30" font-size="24.6" font-weight="bold" fill="#fff" text-anchor="middle">2</text>
<clipPath id="c9"><path d="M363.80,666.00V748.60A15.85,13.00 0 0 0 395.50,748.60V666.00Z"/></clipPath>
<g clip-path="url(#c9)" stroke="#000" stroke-width="1.9">
<rect x="361.80" y="666.00" width="35.70" height="97.60" fill="#fff" stroke="none"/>
<rect x="361.80" y="664.00" width="35.70" height="32.60" fill="#767171"/>
<rect x="361.80" y="714.00" width="35.70" height="24.90" fill="#56B4E9"/>
<rect x="361.80" y="738.90" width="35.70" height="25.70" fill="#CC79A7"/>
</g>
<path d="M363.80,666.00V748.60A15.85,13.00 0 0 0 395.50,748.60V666.00Z" fill="none" stroke="#000" stroke-width="1.9"/>
<path d="M362.00,651.00H397.30L390.68,673.00H368.62Z" fill="#B6894B" stroke="#000" stroke-width="1.5" stroke-linejoin="miter"/>
<text x="379.65" y="671.30" font-size="24.6" font-weight="bold" fill="#fff" text-anchor="middle">3</text>
<clipPath id="c10"><path d="M279.00,787.00V869.80A15.75,13.00 0 0 0 310.50,869.80V787.00Z"/></clipPath>
<g clip-path="url(#c10)" stroke="#000" stroke-width="1.9">
<rect x="277.00" y="787.00" width="35.50" height="97.80" fill="#fff" stroke="none"/>
<rect x="277.00" y="785.00" width="35.50" height="32.60" fill="#AFABAB"/>
<rect x="277.00" y="849.30" width="35.50" height="18.00" fill="#F0E442"/>
<rect x="277.00" y="867.30" width="35.50" height="18.50" fill="#009E73"/>
</g>
<path d="M279.00,787.00V869.80A15.75,13.00 0 0 0 310.50,869.80V787.00Z" fill="none" stroke="#000" stroke-width="1.9"/>
<path d="M277.20,772.00H312.30L305.72,794.00H283.78Z" fill="#B6894B" stroke="#000" stroke-width="1.5" stroke-linejoin="miter"/>
<text x="294.75" y="792.30" font-size="24.6" font-weight="bold" fill="#fff" text-anchor="middle">4</text>
<clipPath id="c11"><path d="M321.50,787.00V869.80A15.75,13.00 0 0 0 353.00,869.80V787.00Z"/></clipPath>
<g clip-path="url(#c11)" stroke="#000" stroke-width="1.9">
<rect x="319.50" y="787.00" width="35.50" height="97.80" fill="#fff" stroke="none"/>
<rect x="319.50" y="785.00" width="35.50" height="32.60" fill="#E7E6E6"/>
<rect x="319.50" y="829.80" width="35.50" height="39.00" fill="#E69F00"/>
<rect x="319.50" y="868.80" width="35.50" height="17.00" fill="#56B4E9"/>
</g>
<path d="M321.50,787.00V869.80A15.75,13.00 0 0 0 353.00,869.80V787.00Z" fill="none" stroke="#000" stroke-width="1.9"/>
<path d="M319.70,772.00H354.80L348.22,794.00H326.28Z" fill="#B6894B" stroke="#000" stroke-width="1.5" stroke-linejoin="miter"/>
<text x="337.25" y="792.30" font-size="24.6" font-weight="bold" fill="#fff" text-anchor="middle">5</text>
<clipPath id="c12"><path d="M363.80,787.00V869.80A15.85,13.00 0 0 0 395.50,869.80V787.00Z"/></clipPath>
<g clip-path="url(#c12)" stroke="#000" stroke-width="1.9">
<rect x="361.80" y="787.00" width="35.70" height="97.80" fill="#fff" stroke="none"/>
<rect x="361.80" y="785.00" width="35.70" height="32.60" fill="#7F7F7F"/>
<rect x="361.80" y="838.50" width="35.70" height="18.30" fill="#009E73"/>
<rect x="361.80" y="856.80" width="35.70" height="29.00" fill="#CC79A7"/>
</g>
<path d="M363.80,787.00V869.80A15.85,13.00 0 0 0 395.50,869.80V787.00Z" fill="none" stroke="#000" stroke-width="1.9"/>
<path d="M362.00,772.00H397.30L390.68,794.00H368.62Z" fill="#B6894B" stroke="#000" stroke-width="1.5" stroke-linejoin="miter"/>
<text x="379.65" y="792.30" font-size="24.6" font-weight="bold" fill="#fff" text-anchor="middle">6</text>
<clipPath id="c13"><path d="M787.30,698.50V786.80A15.95,12.00 0 0 0 819.20,786.80V698.50Z"/></clipPath>
<g clip-path="url(#c13)" stroke="#000" stroke-width="1.9">
<rect x="785.30" y="698.50" width="35.90" height="102.30" fill="#fff" stroke="none"/>
<rect x="785.30" y="696.50" width="35.90" height="33.80" fill="#767171"/>
<rect x="785.30" y="777.80" width="35.90" height="10.00" fill="#F0E442"/>
<rect x="785.30" y="787.80" width="35.90" height="14.00" fill="#E69F00"/>
</g>
<path d="M787.30,698.50V786.80A15.95,12.00 0 0 0 819.20,786.80V698.50Z" fill="none" stroke="#000" stroke-width="1.9"/>
<path d="M785.50,682.60H821.00L814.34,705.10H792.16Z" fill="#B6894B" stroke="#000" stroke-width="1.5" stroke-linejoin="miter"/>
<text x="803.25" y="702.90" font-size="24.6" font-weight="bold" fill="#fff" text-anchor="middle">2</text>
<clipPath id="c14"><path d="M833.80,698.50V786.80A16.10,12.00 0 0 0 866.00,786.80V698.50Z"/></clipPath>
<g clip-path="url(#c14)" stroke="#000" stroke-width="1.9">
<rect x="831.80" y="698.50" width="36.20" height="102.30" fill="#fff" stroke="none"/>
<rect x="831.80" y="696.50" width="36.20" height="33.80" fill="#767171"/>
<rect x="831.80" y="777.80" width="36.20" height="10.00" fill="#E69F00"/>
<rect x="831.80" y="787.80" width="36.20" height="14.00" fill="#56B4E9"/>
</g>
<path d="M833.80,698.50V786.80A16.10,12.00 0 0 0 866.00,786.80V698.50Z" fill="none" stroke="#000" stroke-width="1.9"/>
<path d="M832.00,682.60H867.80L861.09,705.10H838.71Z" fill="#B6894B" stroke="#000" stroke-width="1.5" stroke-linejoin="miter"/>
<text x="849.90" y="702.90" font-size="24.6" font-weight="bold" fill="#fff" text-anchor="middle">5</text>
<clipPath id="c15"><path d="M1288.00,670.20V758.00A16.35,12.00 0 0 0 1320.70,758.00V670.20Z"/></clipPath>
<g clip-path="url(#c15)" stroke="#000" stroke-width="1.9">
<rect x="1286.00" y="670.20" width="36.70" height="101.80" fill="#fff" stroke="none"/>
<rect x="1286.00" y="668.20" width="36.70" height="33.30" fill="#767171"/>
<rect x="1286.00" y="759.00" width="36.70" height="14.00" fill="#E69F00"/>
</g>
<path d="M1288.00,670.20V758.00A16.35,12.00 0 0 0 1320.70,758.00V670.20Z" fill="none" stroke="#000" stroke-width="1.9"/>
<path d="M1286.20,654.20H1322.50L1315.69,676.70H1293.01Z" fill="#B6894B" stroke="#000" stroke-width="1.5" stroke-linejoin="miter"/>
<text x="1304.35" y="674.50" font-size="24.6" font-weight="bold" fill="#fff" text-anchor="middle">1</text>
<text x="1304.35" y="709.70" font-size="41" font-weight="bold" fill="#fff" text-anchor="middle">*</text>
<clipPath id="c16"><path d="M1330.00,670.20V758.00A16.25,12.00 0 0 0 1362.50,758.00V670.20Z"/></clipPath>
<g clip-path="url(#c16)" stroke="#000" stroke-width="1.9">
<rect x="1328.00" y="670.20" width="36.50" height="101.80" fill="#fff" stroke="none"/>
<rect x="1328.00" y="668.20" width="36.50" height="33.30" fill="#767171"/>
<rect x="1328.00" y="748.50" width="36.50" height="10.20" fill="#F0E442"/>
<rect x="1328.00" y="758.70" width="36.50" height="14.30" fill="#E69F00"/>
</g>
<path d="M1330.00,670.20V758.00A16.25,12.00 0 0 0 1362.50,758.00V670.20Z" fill="none" stroke="#000" stroke-width="1.9"/>
<path d="M1328.20,654.20H1364.30L1357.53,676.70H1334.97Z" fill="#B6894B" stroke="#000" stroke-width="1.5" stroke-linejoin="miter"/>
<text x="1346.25" y="674.50" font-size="24.6" font-weight="bold" fill="#fff" text-anchor="middle">2</text>
<clipPath id="c17"><path d="M1371.30,670.20V758.00A16.20,12.00 0 0 0 1403.70,758.00V670.20Z"/></clipPath>
<g clip-path="url(#c17)" stroke="#000" stroke-width="1.9">
<rect x="1369.30" y="670.20" width="36.40" height="101.80" fill="#fff" stroke="none"/>
<rect x="1369.30" y="668.20" width="36.40" height="33.30" fill="#767171"/>
<rect x="1369.30" y="748.50" width="36.40" height="10.20" fill="#F0E442"/>
<rect x="1369.30" y="758.70" width="36.40" height="14.30" fill="#E69F00"/>
</g>
<path d="M1371.30,670.20V758.00A16.20,12.00 0 0 0 1403.70,758.00V670.20Z" fill="none" stroke="#000" stroke-width="1.9"/>
<path d="M1369.50,654.20H1405.50L1398.75,676.70H1376.25Z" fill="#B6894B" stroke="#000" stroke-width="1.5" stroke-linejoin="miter"/>
<text x="1387.50" y="674.50" font-size="24.6" font-weight="bold" fill="#fff" text-anchor="middle">3</text>
<clipPath id="c18"><path d="M1286.30,800.20V888.20A16.60,12.00 0 0 0 1319.50,888.20V800.20Z"/></clipPath>
<g clip-path="url(#c18)" stroke="#000" stroke-width="1.9">
<rect x="1284.30" y="800.20" width="37.20" height="102.00" fill="#fff" stroke="none"/>
<rect x="1284.30" y="798.20" width="37.20" height="33.50" fill="#767171"/>
<rect x="1284.30" y="867.30" width="37.20" height="10.70" fill="#0072B2"/>
<rect x="1284.30" y="878.00" width="37.20" height="11.30" fill="#F0E442"/>
<rect x="1284.30" y="889.30" width="37.20" height="13.90" fill="#E69F00"/>
</g>
<path d="M1286.30,800.20V888.20A16.60,12.00 0 0 0 1319.50,888.20V800.20Z" fill="none" stroke="#000" stroke-width="1.9"/>
<path d="M1284.50,784.20H1321.30L1314.40,806.70H1291.40Z" fill="#B6894B" stroke="#000" stroke-width="1.5" stroke-linejoin="miter"/>
<text x="1302.90" y="804.50" font-size="24.6" font-weight="bold" fill="#fff" text-anchor="middle">4</text>
<text x="1302.90" y="839.90" font-size="41" font-weight="bold" fill="#fff" text-anchor="middle">*</text>
<clipPath id="c19"><path d="M1328.00,800.20V888.20A16.60,12.00 0 0 0 1361.20,888.20V800.20Z"/></clipPath>
<g clip-path="url(#c19)" stroke="#000" stroke-width="1.9">
<rect x="1326.00" y="800.20" width="37.20" height="102.00" fill="#fff" stroke="none"/>
<rect x="1326.00" y="798.20" width="37.20" height="33.50" fill="#767171"/>
<rect x="1326.00" y="878.00" width="37.20" height="11.30" fill="#E69F00"/>
<rect x="1326.00" y="889.30" width="37.20" height="13.90" fill="#56B4E9"/>
</g>
<path d="M1328.00,800.20V888.20A16.60,12.00 0 0 0 1361.20,888.20V800.20Z" fill="none" stroke="#000" stroke-width="1.9"/>
<path d="M1326.20,784.20H1363.00L1356.10,806.70H1333.10Z" fill="#B6894B" stroke="#000" stroke-width="1.5" stroke-linejoin="miter"/>
<text x="1344.60" y="804.50" font-size="24.6" font-weight="bold" fill="#fff" text-anchor="middle">5</text>
<clipPath id="c20"><path d="M1370.00,800.20V888.20A16.60,12.00 0 0 0 1403.20,888.20V800.20Z"/></clipPath>
<g clip-path="url(#c20)" stroke="#000" stroke-width="1.9">
<rect x="1368.00" y="800.20" width="37.20" height="102.00" fill="#fff" stroke="none"/>
<rect x="1368.00" y="798.20" width="37.20" height="33.50" fill="#767171"/>
<rect x="1368.00" y="867.30" width="37.20" height="10.70" fill="#CC79A7"/>
<rect x="1368.00" y="878.00" width="37.20" height="11.30" fill="#E69F00"/>
<rect x="1368.00" y="889.30" width="37.20" height="13.90" fill="#56B4E9"/>
</g>
<path d="M1370.00,800.20V888.20A16.60,12.00 0 0 0 1403.20,888.20V800.20Z" fill="none" stroke="#000" stroke-width="1.9"/>
<path d="M1368.20,784.20H1405.00L1398.10,806.70H1375.10Z" fill="#B6894B" stroke="#000" stroke-width="1.5" stroke-linejoin="miter"/>
<text x="1386.60" y="804.50" font-size="24.6" font-weight="bold" fill="#fff" text-anchor="middle">6</text>
<text x="1386.60" y="839.90" font-size="41" font-weight="bold" fill="#fff" text-anchor="middle">*</text>
<text x="14" y="684.3" font-size="37.3" text-anchor="start" >1.</text>
<text x="229.5" y="684.5" font-size="37.3" text-anchor="start" >2.</text>
<text x="446" y="684.5" font-size="37.3" text-anchor="start" >3.</text>
<text x="1234.5" y="684.3" font-size="37.3" text-anchor="start" >4.</text>
<path d="M1443.3,761.5H1489V1007.6H224.8V768.5H246" fill="none" stroke="#000" stroke-width="3.2" stroke-linejoin="miter"/>
<path d="M263.2,768.5L240.2,761.7L245.0,768.5L240.2,775.3Z" fill="#000" stroke="#000" stroke-width="0.6" stroke-linejoin="round"/>
<line x1="422.3" y1="768.5" x2="460" y2="768.5" stroke="#000" stroke-width="3.2"/>
<path d="M477.4,768.5L454.4,761.7L459.2,768.5L454.4,775.3Z" fill="#000" stroke="#000" stroke-width="0.6" stroke-linejoin="round"/>
<line x1="884.3" y1="725.3" x2="1249" y2="725.3" stroke="#000" stroke-width="3.2"/>
<path d="M1266.2,725.3L1243.2,718.5L1248.0,725.3L1243.2,732.0999999999999Z" fill="#000" stroke="#000" stroke-width="0.6" stroke-linejoin="round"/>
<path d="M1054,775V749.9H1249" fill="none" stroke="#000" stroke-width="3.2"/>
<path d="M1266.2,749.9L1243.2,743.1L1248.0,749.9L1243.2,756.6999999999999Z" fill="#000" stroke="#000" stroke-width="0.6" stroke-linejoin="round"/>
<text x="936" y="713.5" font-size="36.3" text-anchor="start" >use as template</text>
<text x="687.8" y="1048" font-size="39.7" text-anchor="start" >Repeat</text>
<path d="M498.7,702V854.9H765.5" fill="none" stroke="#000" stroke-width="4.6"/>
<path d="M498.7,691.3L505.3,703.8H492.1Z" fill="#000"/>
<rect x="510" y="801" width="15.2" height="15.2" fill="#000"/>
<rect x="557" y="741.2" width="15.2" height="15.2" fill="#000"/>
<rect x="604.8" y="824" width="15.2" height="15.2" fill="#000"/>
<rect x="649.4" y="783.8" width="15.2" height="15.2" fill="#000"/>
<rect x="694.4" y="763.8" width="15.2" height="15.2" fill="#000"/>
<rect x="742.4" y="801.3" width="15.2" height="15.2" fill="#000"/>
<text x="517.5" y="896.6" font-size="36.2" text-anchor="middle" font-weight="bold">1</text>
<text x="566.8" y="896.6" font-size="36.2" text-anchor="middle" font-weight="bold">2</text>
<text x="615" y="896.6" font-size="36.2" text-anchor="middle" font-weight="bold">3</text>
<text x="663" y="896.6" font-size="36.2" text-anchor="middle" font-weight="bold">4</text>
<text x="706.5" y="896.6" font-size="36.2" text-anchor="middle" font-weight="bold">5</text>
<text x="752.5" y="896.6" font-size="36.2" text-anchor="middle" font-weight="bold">6</text>
<text x="624.8" y="679" font-size="36.3" text-anchor="middle" >Degradation</text>
<text x="630.5" y="722" font-size="36.3" text-anchor="middle" >percent</text>
<rect x="953.5" y="775.7" width="231.3" height="48.4" fill="#F2F2F2" stroke="#BFBFBF" stroke-width="2.6"/>
<circle cx="974.3" cy="799.6" r="13.2" fill="#F0E442" stroke="#000" stroke-width="2.5"/>
<circle cx="1011.8" cy="799.6" r="13.2" fill="#0072B2" stroke="#000" stroke-width="2.5"/>
<circle cx="1049.2" cy="799.6" r="13.2" fill="#E69F00" stroke="#000" stroke-width="2.5"/>
<circle cx="1087.2" cy="799.6" r="13.2" fill="#009E73" stroke="#000" stroke-width="2.5"/>
<circle cx="1124.2" cy="799.6" r="13.2" fill="#56B4E9" stroke="#000" stroke-width="2.5"/>
<circle cx="1162.7" cy="799.6" r="13.2" fill="#CC79A7" stroke="#000" stroke-width="2.5"/>
<g fill="none" stroke="#000" stroke-width="4.2" stroke-linejoin="round" stroke-linecap="round">
<path d="M978.6,831.8H1158.8V959.5a10,10 0 0 1 -10,10H988.6a10,10 0 0 1 -10,-10Z" fill="#fff"/>
<path d="M978.6,855.4H1158.8"/>
<path d="M1008.5,831.8V855.4"/>
<path d="M1038.7,831.8V855.4"/>
<path d="M1069,831.8V855.4"/>
<path d="M1099.1,831.8V855.4"/>
<path d="M1128.9,831.8V855.4"/>
<path d="M1044.3,855.4V868H1093.3V855.4"/>
<path d="M978.6,875.3H989.5V949.7H978.6"/>
<path d="M1158.8,875.3H1147.8V949.7H1158.8"/>
<path d="M994,969.5V977.5a6,6 0 0 0 6,6H1022.1a6,6 0 0 0 6,-6V969.5"/>
<path d="M1109.3,969.5V977.5a6,6 0 0 0 6,6H1137a6,6 0 0 0 6,-6V969.5"/>
<path d="M1069.00,908.80L1069.00,883.80"/>
<path d="M1069.00,894.30L1077.92,889.15"/>
<path d="M1069.00,894.30L1060.08,889.15"/>
<path d="M1060.34,913.80L1038.69,901.30"/>
<path d="M1047.78,906.55L1047.78,896.25"/>
<path d="M1047.78,906.55L1038.86,911.70"/>
<path d="M1060.34,923.80L1038.69,936.30"/>
<path d="M1047.78,931.05L1038.86,925.90"/>
<path d="M1047.78,931.05L1047.78,941.35"/>
<path d="M1069.00,928.80L1069.00,953.80"/>
<path d="M1069.00,943.30L1060.08,948.45"/>
<path d="M1069.00,943.30L1077.92,948.45"/>
<path d="M1077.66,923.80L1099.31,936.30"/>
<path d="M1090.22,931.05L1090.22,941.35"/>
<path d="M1090.22,931.05L1099.14,925.90"/>
<path d="M1077.66,913.80L1099.31,901.30"/>
<path d="M1090.22,906.55L1099.14,911.70"/>
<path d="M1090.22,906.55L1090.22,896.25"/>
<circle cx="1069" cy="918.8" r="10" fill="#fff"/>
</g>
</svg>
</body></html>
